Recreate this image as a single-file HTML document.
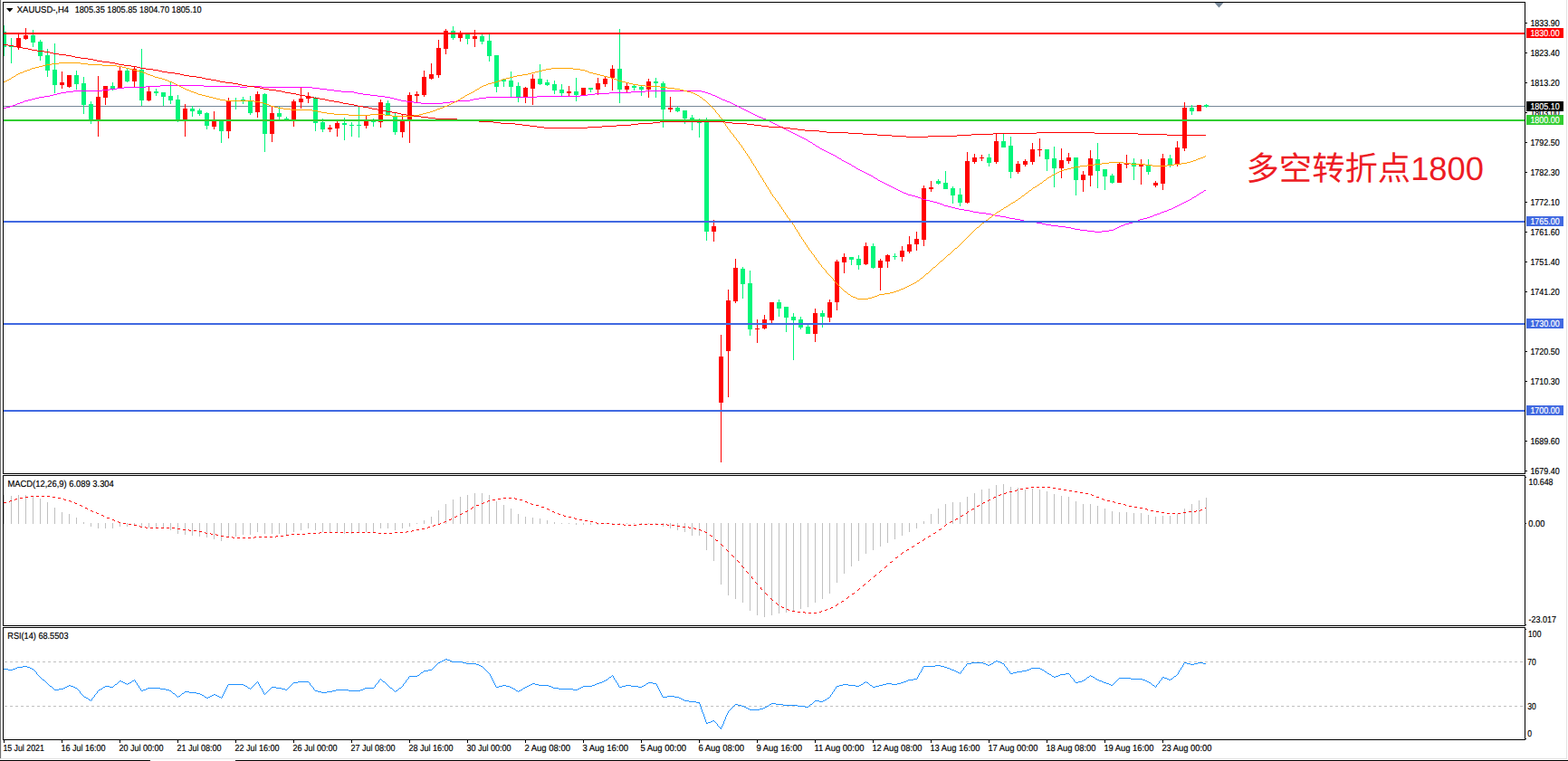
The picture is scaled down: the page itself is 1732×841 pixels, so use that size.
<!DOCTYPE html>
<html><head><meta charset="utf-8"><title>XAUUSD H4</title>
<style>
html,body{margin:0;padding:0;background:#fff;}
body{width:1732px;height:841px;overflow:hidden;position:relative;font-family:"Liberation Sans",sans-serif;}
svg{position:absolute;left:0;top:0;display:block;}
text{font-family:"Liberation Sans",sans-serif;font-size:10.1px;fill:#000;stroke:#000;stroke-width:0.18px;text-rendering:geometricPrecision;}
.w{fill:#fff;stroke:#fff;}
</style></head><body>
<svg width="1732" height="841" viewBox="0 0 1732 841">
<rect x="0" y="0" width="1732" height="841" fill="#fff"/>
<g shape-rendering="crispEdges">
<rect x="0" y="0" width="1" height="838" fill="#727272"/>
<rect x="1" y="0" width="1" height="838" fill="#ededed"/>
<rect x="1730" y="0" width="1" height="839" fill="#e3e3e3"/>
<rect x="0" y="838" width="1731" height="1" fill="#e3e3e3"/>
<rect x="0" y="840" width="166" height="1" fill="#000"/>
<rect x="260" y="840" width="1472" height="1" fill="#000"/>
</g>
<g shape-rendering="crispEdges">
<rect x="4" y="117" width="1680" height="1" fill="#778899"/>
</g>
<defs><clipPath id="cm"><rect x="4" y="3" width="1680" height="520"/></clipPath></defs>
<g shape-rendering="crispEdges" clip-path="url(#cm)">
<path fill="#00F57A" d="M4 28h1v34h-1zM2 35h5v17h-5zM12 42h1v28h-1zM10 51h5v1h-5zM36 33h1v19h-1zM34 39h5v8h-5zM44 44h1v23h-1zM42 46h5v16h-5zM52 54h1v31h-1zM50 61h5v17h-5zM60 48h1v55h-1zM58 77h5v17h-5zM84 78h1v21h-1zM82 83h5v10h-5zM92 85h1v41h-1zM90 92h5v24h-5zM100 112h1v25h-1zM98 115h5v17h-5zM124 91h1v9h-1zM122 95h5v3h-5zM140 76h1v15h-1zM138 78h5v12h-5zM156 54h1v63h-1zM154 77h5v34h-5zM172 98h1v8h-1zM170 101h5v2h-5zM180 102h1v15h-1zM178 102h5v5h-5zM188 91h1v24h-1zM186 106h5v5h-5zM196 105h1v30h-1zM194 110h5v22h-5zM212 117h1v12h-1zM210 120h5v3h-5zM220 120h1v8h-1zM218 122h5v4h-5zM228 124h1v19h-1zM226 125h5v14h-5zM244 133h1v25h-1zM242 133h5v12h-5zM260 108h1v13h-1zM258 111h5v1h-5zM268 107h1v8h-1zM266 110h5v2h-5zM276 106h1v21h-1zM274 111h5v14h-5zM292 103h1v65h-1zM290 104h5v44h-5zM308 118h1v14h-1zM306 125h5v4h-5zM316 129h1v4h-1zM314 131h5v2h-5zM348 107h1v38h-1zM346 108h5v28h-5zM356 131h1v15h-1zM354 135h5v8h-5zM380 130h1v25h-1zM378 136h5v2h-5zM388 135h1v16h-1zM386 138h5v1h-5zM396 118h1v34h-1zM394 138h5v1h-5zM412 131h1v9h-1zM410 133h5v2h-5zM428 111h1v16h-1zM426 114h5v13h-5zM436 125h1v24h-1zM434 129h5v17h-5zM500 29h1v15h-1zM498 34h5v8h-5zM516 37h1v12h-1zM514 37h5v6h-5zM532 38h1v11h-1zM530 40h5v6h-5zM540 38h1v30h-1zM538 45h5v17h-5zM548 61h1v41h-1zM546 61h5v35h-5zM556 87h1v9h-1zM554 88h5v2h-5zM564 79h1v28h-1zM562 89h5v7h-5zM572 91h1v22h-1zM570 95h5v13h-5zM596 71h1v23h-1zM594 87h5v6h-5zM604 88h1v7h-1zM602 91h5v3h-5zM612 89h1v15h-1zM610 93h5v7h-5zM620 93h1v14h-1zM618 99h5v4h-5zM636 86h1v26h-1zM634 101h5v4h-5zM652 97h1v5h-1zM650 97h5v2h-5zM684 32h1v82h-1zM682 76h5v23h-5zM700 93h1v7h-1zM698 95h5v2h-5zM708 95h1v11h-1zM706 96h5v3h-5zM724 86h1v22h-1zM722 90h5v2h-5zM732 90h1v51h-1zM730 92h5v29h-5zM748 118h1v6h-1zM746 119h5v4h-5zM756 122h1v15h-1zM754 122h5v9h-5zM764 127h1v17h-1zM762 130h5v3h-5zM772 131h1v21h-1zM770 133h5v3h-5zM780 130h1v136h-1zM778 134h5v122h-5zM820 295h1v35h-1zM818 297h5v17h-5zM828 299h1v72h-1zM826 313h5v51h-5zM860 331h1v19h-1zM858 334h5v7h-5zM868 339h1v28h-1zM866 339h5v12h-5zM876 346h1v52h-1zM874 350h5v4h-5zM884 350h1v14h-1zM882 353h5v9h-5zM892 359h1v10h-1zM890 361h5v8h-5zM908 343h1v19h-1zM906 346h5v4h-5zM940 284h1v9h-1zM938 284h5v3h-5zM948 282h1v16h-1zM946 286h5v7h-5zM964 269h1v28h-1zM962 272h5v24h-5zM988 280h1v7h-1zM986 283h5v1h-5zM1036 198h1v6h-1zM1034 200h5v3h-5zM1044 189h1v20h-1zM1042 202h5v7h-5zM1052 206h1v19h-1zM1050 208h5v8h-5zM1060 208h1v20h-1zM1058 215h5v9h-5zM1092 170h1v14h-1zM1090 174h5v6h-5zM1108 148h1v15h-1zM1106 156h5v7h-5zM1116 151h1v46h-1zM1114 161h5v29h-5zM1156 165h1v24h-1zM1154 165h5v11h-5zM1164 162h1v45h-1zM1162 175h5v11h-5zM1188 174h1v42h-1zM1186 174h5v25h-5zM1212 158h1v50h-1zM1210 176h5v13h-5zM1220 187h1v23h-1zM1218 187h5v8h-5zM1228 192h1v11h-1zM1226 194h5v8h-5zM1252 175h1v24h-1zM1250 180h5v4h-5zM1268 176h1v17h-1zM1266 182h5v8h-5zM1292 171h1v14h-1zM1290 175h5v7h-5zM1316 116h1v11h-1zM1314 119h5v4h-5zM1332 115h1v4h-1zM1330 116h5v2h-5z"/>
<path fill="#FF0000" d="M20 37h1v18h-1zM18 42h5v10h-5zM28 31h1v13h-1zM26 39h5v4h-5zM68 79h1v19h-1zM66 91h5v3h-5zM76 83h1v14h-1zM74 83h5v13h-5zM108 84h1v67h-1zM106 107h5v25h-5zM116 95h1v21h-1zM114 95h5v13h-5zM132 73h1v24h-1zM130 78h5v19h-5zM148 73h1v24h-1zM146 76h5v14h-5zM164 96h1v16h-1zM162 101h5v10h-5zM204 115h1v36h-1zM202 120h5v12h-5zM236 123h1v20h-1zM234 134h5v6h-5zM252 108h1v45h-1zM250 112h5v33h-5zM284 101h1v29h-1zM282 104h5v20h-5zM300 117h1v40h-1zM298 125h5v23h-5zM324 110h1v30h-1zM322 112h5v20h-5zM332 97h1v23h-1zM330 109h5v4h-5zM340 102h1v12h-1zM338 107h5v2h-5zM364 138h1v8h-1zM362 141h5v2h-5zM372 134h1v17h-1zM370 136h5v6h-5zM404 128h1v14h-1zM402 134h5v5h-5zM420 110h1v31h-1zM418 113h5v22h-5zM444 126h1v26h-1zM442 132h5v14h-5zM452 102h1v56h-1zM450 105h5v27h-5zM460 101h1v12h-1zM458 104h5v2h-5zM468 78h1v29h-1zM466 85h5v20h-5zM476 70h1v18h-1zM474 82h5v5h-5zM484 44h1v42h-1zM482 53h5v30h-5zM492 32h1v28h-1zM490 34h5v20h-5zM508 34h1v12h-1zM506 36h5v6h-5zM524 33h1v19h-1zM522 40h5v3h-5zM580 96h1v18h-1zM578 97h5v11h-5zM588 82h1v34h-1zM586 87h5v11h-5zM628 95h1v12h-1zM626 101h5v2h-5zM644 97h1v9h-1zM642 97h5v8h-5zM660 86h1v19h-1zM658 92h5v7h-5zM668 85h1v11h-1zM666 87h5v6h-5zM676 72h1v28h-1zM674 76h5v10h-5zM692 92h1v10h-1zM690 95h5v4h-5zM716 87h1v21h-1zM714 90h5v9h-5zM740 107h1v17h-1zM738 119h5v2h-5zM788 243h1v24h-1zM786 250h5v6h-5zM796 370h1v141h-1zM794 394h5v51h-5zM804 320h1v119h-1zM802 332h5v56h-5zM812 286h1v49h-1zM810 296h5v37h-5zM836 353h1v26h-1zM834 363h5v1h-5zM844 348h1v16h-1zM842 353h5v10h-5zM852 334h1v23h-1zM850 334h5v20h-5zM900 341h1v37h-1zM898 346h5v23h-5zM916 331h1v25h-1zM914 334h5v17h-5zM924 287h1v56h-1zM922 289h5v45h-5zM932 280h1v22h-1zM930 284h5v6h-5zM956 268h1v25h-1zM954 272h5v20h-5zM972 286h1v35h-1zM970 288h5v8h-5zM980 281h1v15h-1zM978 282h5v7h-5zM996 272h1v17h-1zM994 277h5v7h-5zM1004 261h1v19h-1zM1002 270h5v8h-5zM1012 256h1v21h-1zM1010 264h5v6h-5zM1020 205h1v67h-1zM1018 208h5v57h-5zM1028 200h1v12h-1zM1026 207h5v2h-5zM1068 168h1v57h-1zM1066 178h5v46h-5zM1076 170h1v11h-1zM1074 174h5v5h-5zM1084 171h1v7h-1zM1082 174h5v1h-5zM1100 148h1v33h-1zM1098 156h5v23h-5zM1124 178h1v14h-1zM1122 181h5v9h-5zM1132 176h1v8h-1zM1130 178h5v4h-5zM1140 158h1v24h-1zM1138 165h5v14h-5zM1148 153h1v20h-1zM1146 165h5v1h-5zM1172 164h1v33h-1zM1170 177h5v9h-5zM1180 169h1v12h-1zM1178 174h5v4h-5zM1196 189h1v23h-1zM1194 193h5v6h-5zM1204 166h1v40h-1zM1202 175h5v19h-5zM1236 180h1v22h-1zM1234 181h5v21h-5zM1244 171h1v15h-1zM1242 180h5v2h-5zM1260 176h1v28h-1zM1258 182h5v2h-5zM1276 200h1v7h-1zM1274 202h5v3h-5zM1284 170h1v40h-1zM1282 175h5v28h-5zM1300 156h1v28h-1zM1298 163h5v19h-5zM1308 113h1v54h-1zM1306 119h5v45h-5zM1324 116h1v7h-1zM1322 116h5v7h-5z"/>
</g>
<g shape-rendering="crispEdges">
<path fill="#FF00FF" d="M4 119h3v1h-3zM7 118h4v1h-4zM11 117h3v1h-3zM14 116h3v1h-3zM17 115h2v1h-2zM19 114h3v1h-3zM22 113h3v1h-3zM25 112h2v1h-2zM27 111h4v1h-4zM31 110h4v1h-4zM35 109h4v1h-4zM39 108h4v1h-4zM43 107h6v1h-6zM49 106h6v1h-6zM55 105h4v1h-4zM59 104h4v1h-4zM63 103h4v1h-4zM67 102h6v1h-6zM73 101h8v1h-8zM81 100h32v1h-32zM113 99h8v1h-8zM121 98h8v1h-8zM129 97h8v1h-8zM137 96h24v1h-24zM161 95h16v1h-16zM177 94h48v1h-48zM225 95h40v1h-40zM265 96h8v1h-8zM273 95h16v1h-16zM289 96h56v1h-56zM345 97h8v1h-8zM353 98h8v1h-8zM361 99h8v1h-8zM369 100h8v1h-8zM377 101h14v1h-14zM391 102h4v1h-4zM395 103h6v1h-6zM401 104h8v1h-8zM409 105h8v1h-8zM417 106h8v1h-8zM425 107h6v1h-6zM431 108h4v1h-4zM435 109h4v1h-4zM439 110h4v1h-4zM443 111h6v1h-6zM449 112h8v1h-8zM457 113h8v1h-8zM465 114h24v1h-24zM489 113h8v1h-8zM497 112h8v1h-8zM505 111h14v1h-14zM519 110h4v1h-4zM523 109h6v1h-6zM529 108h8v1h-8zM537 107h56v1h-56zM593 106h48v1h-48zM641 105h8v1h-8zM649 104h8v1h-8zM657 103h16v1h-16zM673 102h24v1h-24zM697 101h16v1h-16zM713 100h62v1h-62zM775 101h4v1h-4zM779 102h3v1h-3zM782 103h3v1h-3zM785 104h2v1h-2zM787 105h3v1h-3zM790 106h2v1h-2zM792 107h2v1h-2zM794 108h2v1h-2zM796 109h2v1h-2zM798 110h3v1h-3zM801 111h2v1h-2zM803 112h3v1h-3zM806 113h2v1h-2zM808 114h2v1h-2zM810 115h2v1h-2zM812 116h2v1h-2zM814 117h2v1h-2zM816 118h2v1h-2zM818 119h2v1h-2zM820 120h2v1h-2zM822 121h2v1h-2zM824 122h2v1h-2zM826 123h2v1h-2zM828 124h2v1h-2zM830 125h2v1h-2zM832 126h2v1h-2zM834 127h2v1h-2zM836 128h2v1h-2zM838 129h3v1h-3zM841 130h2v1h-2zM843 131h3v1h-3zM846 132h2v1h-2zM848 133h2v1h-2zM850 134h2v1h-2zM852 135h2v1h-2zM854 136h2v1h-2zM856 137h2v1h-2zM858 138h2v1h-2zM860 139h2v1h-2zM862 140h2v1h-2zM864 141h2v1h-2zM866 142h2v1h-2zM868 143h2v1h-2zM870 144h2v1h-2zM872 145h2v1h-2zM874 146h2v1h-2zM876 147h2v1h-2zM878 148h2v1h-2zM880 149h2v1h-2zM882 150h2v1h-2zM884 151h2v1h-2zM886 152h2v1h-2zM888 153h2v1h-2zM890 154h2v1h-2zM892 155h1v1h-1zM893 156h2v1h-2zM895 157h2v1h-2zM897 158h1v1h-1zM898 159h2v1h-2zM900 160h1v1h-1zM901 161h2v1h-2zM903 162h2v1h-2zM905 163h1v1h-1zM906 164h2v1h-2zM908 165h2v1h-2zM910 166h2v1h-2zM912 167h2v1h-2zM914 168h2v1h-2zM916 169h2v1h-2zM918 170h2v1h-2zM920 171h2v1h-2zM922 172h2v1h-2zM924 173h1v1h-1zM925 174h2v1h-2zM927 175h2v1h-2zM929 176h1v1h-1zM930 177h2v1h-2zM932 178h2v1h-2zM934 179h2v1h-2zM936 180h2v1h-2zM938 181h2v1h-2zM940 182h1v1h-1zM941 183h2v1h-2zM943 184h2v1h-2zM945 185h1v1h-1zM946 186h2v1h-2zM948 187h2v1h-2zM950 188h2v1h-2zM952 189h2v1h-2zM954 190h2v1h-2zM956 191h2v1h-2zM958 192h2v1h-2zM960 193h2v1h-2zM962 194h2v1h-2zM964 195h1v1h-1zM965 196h2v1h-2zM967 197h2v1h-2zM969 198h1v1h-1zM970 199h2v1h-2zM972 200h2v1h-2zM974 201h2v1h-2zM976 202h2v1h-2zM978 203h2v1h-2zM980 204h2v1h-2zM982 205h2v1h-2zM984 206h2v1h-2zM986 207h2v1h-2zM988 208h2v1h-2zM990 209h2v1h-2zM992 210h2v1h-2zM994 211h2v1h-2zM996 212h2v1h-2zM998 213h3v1h-3zM1001 214h2v1h-2zM1003 215h4v1h-4zM1007 216h4v1h-4zM1011 217h3v1h-3zM1014 218h3v1h-3zM1017 219h2v1h-2zM1019 220h4v1h-4zM1023 221h4v1h-4zM1027 222h4v1h-4zM1031 223h4v1h-4zM1035 224h3v1h-3zM1038 225h3v1h-3zM1041 226h2v1h-2zM1043 227h4v1h-4zM1047 228h4v1h-4zM1051 229h4v1h-4zM1055 230h4v1h-4zM1059 231h6v1h-6zM1065 232h6v1h-6zM1071 233h4v1h-4zM1075 234h6v1h-6zM1081 235h8v1h-8zM1089 236h6v1h-6zM1095 237h4v1h-4zM1099 238h6v1h-6zM1105 239h6v1h-6zM1111 240h4v1h-4zM1115 241h6v1h-6zM1121 242h6v1h-6zM1127 243h4v1h-4zM1131 244h6v1h-6zM1137 245h8v1h-8zM1145 246h6v1h-6zM1151 247h4v1h-4zM1155 248h6v1h-6zM1161 249h8v1h-8zM1169 250h8v1h-8zM1177 251h6v1h-6zM1183 252h4v1h-4zM1187 253h6v1h-6zM1193 254h8v1h-8zM1201 255h8v1h-8zM1209 256h8v1h-8zM1217 255h8v1h-8zM1225 254h5v1h-5zM1230 253h2v1h-2zM1232 252h2v1h-2zM1234 251h2v1h-2zM1236 250h2v1h-2zM1238 249h3v1h-3zM1241 248h2v1h-2zM1243 247h4v1h-4zM1247 246h4v1h-4zM1251 245h3v1h-3zM1254 244h3v1h-3zM1257 243h2v1h-2zM1259 242h4v1h-4zM1263 241h4v1h-4zM1267 240h3v1h-3zM1270 239h3v1h-3zM1273 238h2v1h-2zM1275 237h3v1h-3zM1278 236h3v1h-3zM1281 235h2v1h-2zM1283 234h3v1h-3zM1286 233h3v1h-3zM1289 232h2v1h-2zM1291 231h3v1h-3zM1294 230h2v1h-2zM1296 229h2v1h-2zM1298 228h2v1h-2zM1300 227h2v1h-2zM1302 226h2v1h-2zM1304 225h2v1h-2zM1306 224h2v1h-2zM1308 223h2v1h-2zM1310 222h2v1h-2zM1312 221h2v1h-2zM1314 220h2v1h-2zM1316 219h1v1h-1zM1317 218h2v1h-2zM1319 217h2v1h-2zM1321 216h1v1h-1zM1322 215h2v1h-2zM1324 214h1v1h-1zM1325 213h2v1h-2zM1327 212h2v1h-2zM1329 211h1v1h-1zM1330 210h2v1h-2z"/>
<path fill="#FFA500" d="M4 90h2v1h-2zM6 89h2v1h-2zM8 88h2v1h-2zM10 87h2v1h-2zM12 86h1v1h-1zM13 85h2v1h-2zM15 84h2v1h-2zM17 83h1v1h-1zM18 82h2v1h-2zM20 81h2v1h-2zM22 80h3v1h-3zM25 79h2v1h-2zM27 78h3v1h-3zM30 77h3v1h-3zM33 76h2v1h-2zM35 75h4v1h-4zM39 74h4v1h-4zM43 73h4v1h-4zM47 72h4v1h-4zM51 71h6v1h-6zM57 70h8v1h-8zM65 69h24v1h-24zM89 70h8v1h-8zM97 71h16v1h-16zM113 72h16v1h-16zM129 73h6v1h-6zM135 74h4v1h-4zM139 75h4v1h-4zM143 76h4v1h-4zM147 77h4v1h-4zM151 78h4v1h-4zM155 79h3v1h-3zM158 80h3v1h-3zM161 81h2v1h-2zM163 82h3v1h-3zM166 83h3v1h-3zM169 84h2v1h-2zM171 85h4v1h-4zM175 86h4v1h-4zM179 87h3v1h-3zM182 88h3v1h-3zM185 89h2v1h-2zM187 90h3v1h-3zM190 91h2v1h-2zM192 92h2v1h-2zM194 93h2v1h-2zM196 94h2v1h-2zM198 95h2v1h-2zM200 96h2v1h-2zM202 97h2v1h-2zM204 98h2v1h-2zM206 99h3v1h-3zM209 100h2v1h-2zM211 101h3v1h-3zM214 102h3v1h-3zM217 103h2v1h-2zM219 104h4v1h-4zM223 105h4v1h-4zM227 106h4v1h-4zM231 107h4v1h-4zM235 108h4v1h-4zM239 109h4v1h-4zM243 110h6v1h-6zM249 111h32v1h-32zM281 112h6v1h-6zM287 113h4v1h-4zM291 114h3v1h-3zM294 115h3v1h-3zM297 116h2v1h-2zM299 117h4v1h-4zM303 118h4v1h-4zM307 119h6v1h-6zM313 120h8v1h-8zM321 121h24v1h-24zM345 122h6v1h-6zM351 123h4v1h-4zM355 124h6v1h-6zM361 125h8v1h-8zM369 126h16v1h-16zM385 127h24v1h-24zM409 126h16v1h-16zM425 127h8v1h-8zM433 128h24v1h-24zM457 127h6v1h-6zM463 126h4v1h-4zM467 125h4v1h-4zM471 124h4v1h-4zM475 123h3v1h-3zM478 122h3v1h-3zM481 121h2v1h-2zM483 120h3v1h-3zM486 119h3v1h-3zM489 118h2v1h-2zM491 117h3v1h-3zM494 116h2v1h-2zM496 115h2v1h-2zM498 114h2v1h-2zM500 113h2v1h-2zM502 112h2v1h-2zM504 111h2v1h-2zM506 110h2v1h-2zM508 109h1v1h-1zM509 108h2v1h-2zM511 107h2v1h-2zM513 106h1v1h-1zM514 105h2v1h-2zM516 104h2v1h-2zM518 103h2v1h-2zM520 102h2v1h-2zM522 101h2v1h-2zM524 100h1v1h-1zM525 99h2v1h-2zM527 98h2v1h-2zM529 97h1v1h-1zM530 96h2v1h-2zM532 95h2v1h-2zM534 94h3v1h-3zM537 93h2v1h-2zM539 92h4v1h-4zM543 91h4v1h-4zM547 90h3v1h-3zM550 89h3v1h-3zM553 88h2v1h-2zM555 87h4v1h-4zM559 86h4v1h-4zM563 85h4v1h-4zM567 84h4v1h-4zM571 83h6v1h-6zM577 82h6v1h-6zM583 81h4v1h-4zM587 80h4v1h-4zM591 79h4v1h-4zM595 78h4v1h-4zM599 77h4v1h-4zM603 76h6v1h-6zM609 75h24v1h-24zM633 76h8v1h-8zM641 77h5v1h-5zM646 78h3v1h-3zM649 79h2v1h-2zM651 80h4v1h-4zM655 81h4v1h-4zM659 82h4v1h-4zM663 83h4v1h-4zM667 84h4v1h-4zM671 85h4v1h-4zM675 86h3v1h-3zM678 87h3v1h-3zM681 88h2v1h-2zM683 89h4v1h-4zM687 90h4v1h-4zM691 91h4v1h-4zM695 92h4v1h-4zM699 93h6v1h-6zM705 94h8v1h-8zM713 95h16v1h-16zM729 96h8v1h-8zM737 97h8v1h-8zM745 98h6v1h-6zM751 99h4v1h-4zM755 100h4v1h-4zM759 101h4v1h-4zM763 102h3v1h-3zM766 103h2v1h-2zM768 104h2v1h-2zM770 105h2v1h-2zM772 106h1v1h-1zM773 107h2v1h-2zM775 108h1v1h-1zM776 109h1v1h-1zM777 110h2v1h-2zM779 111h1v1h-1zM780 112h1v1h-1zM781 113h1v1h-1zM782 114h1v1h-1zM783 115h1v1h-1zM784 116h1v1h-1zM785 117h1v1h-1zM786 118h1v1h-1zM787 119h1v1h-1zM788 120h1v1h-1zM789 121h1v1h-1zM790 122h1v2h-1zM791 124h1v1h-1zM792 125h1v1h-1zM793 126h1v1h-1zM794 127h1v2h-1zM795 129h1v1h-1zM796 130h1v1h-1zM797 131h1v2h-1zM798 133h1v1h-1zM799 134h1v2h-1zM800 136h1v1h-1zM801 137h1v2h-1zM802 139h1v1h-1zM803 140h1v2h-1zM804 142h1v1h-1zM805 143h1v1h-1zM806 144h1v2h-1zM807 146h1v1h-1zM808 147h1v1h-1zM809 148h1v1h-1zM810 149h1v2h-1zM811 151h1v1h-1zM812 152h1v1h-1zM813 153h1v2h-1zM814 155h1v1h-1zM815 156h1v1h-1zM816 157h1v2h-1zM817 159h1v1h-1zM818 160h1v1h-1zM819 161h1v2h-1zM820 163h1v1h-1zM821 164h1v2h-1zM822 166h1v1h-1zM823 167h1v2h-1zM824 169h1v1h-1zM825 170h1v2h-1zM826 172h1v1h-1zM827 173h1v2h-1zM828 175h1v1h-1zM829 176h1v2h-1zM830 178h1v2h-1zM831 180h1v1h-1zM832 181h1v2h-1zM833 183h1v1h-1zM834 184h1v2h-1zM835 186h1v2h-1zM836 188h1v1h-1zM837 189h1v2h-1zM838 191h1v2h-1zM839 193h1v1h-1zM840 194h1v2h-1zM841 196h1v1h-1zM842 197h1v2h-1zM843 199h1v2h-1zM844 201h1v1h-1zM845 202h1v2h-1zM846 204h1v2h-1zM847 206h1v1h-1zM848 207h1v2h-1zM849 209h1v1h-1zM850 210h1v2h-1zM851 212h1v2h-1zM852 214h1v1h-1zM853 215h1v2h-1zM854 217h1v1h-1zM855 218h1v1h-1zM856 219h1v2h-1zM857 221h1v1h-1zM858 222h1v1h-1zM859 223h1v2h-1zM860 225h1v1h-1zM861 226h1v2h-1zM862 228h1v1h-1zM863 229h1v2h-1zM864 231h1v1h-1zM865 232h1v2h-1zM866 234h1v1h-1zM867 235h1v2h-1zM868 237h1v1h-1zM869 238h1v2h-1zM870 240h1v1h-1zM871 241h1v1h-1zM872 242h1v2h-1zM873 244h1v1h-1zM874 245h1v1h-1zM875 246h1v2h-1zM876 248h1v1h-1zM877 249h1v2h-1zM878 251h1v2h-1zM879 253h1v1h-1zM880 254h1v2h-1zM881 256h1v1h-1zM882 257h1v2h-1zM883 259h1v2h-1zM884 261h1v1h-1zM885 262h1v2h-1zM886 264h1v1h-1zM887 265h1v2h-1zM888 267h1v1h-1zM889 268h1v2h-1zM890 270h1v1h-1zM891 271h1v2h-1zM892 273h1v1h-1zM893 274h1v2h-1zM894 276h1v1h-1zM895 277h1v1h-1zM896 278h1v2h-1zM897 280h1v1h-1zM898 281h1v1h-1zM899 282h1v2h-1zM900 284h1v1h-1zM901 285h1v2h-1zM902 287h1v1h-1zM903 288h1v1h-1zM904 289h1v2h-1zM905 291h1v1h-1zM906 292h1v1h-1zM907 293h1v2h-1zM908 295h1v1h-1zM909 296h1v1h-1zM910 297h1v1h-1zM911 298h1v1h-1zM912 299h1v2h-1zM913 301h1v1h-1zM914 302h1v1h-1zM915 303h1v1h-1zM916 304h1v1h-1zM917 305h1v1h-1zM918 306h1v1h-1zM919 307h1v1h-1zM920 308h1v2h-1zM921 310h1v1h-1zM922 311h1v1h-1zM923 312h1v1h-1zM924 313h1v1h-1zM925 314h1v1h-1zM926 315h1v1h-1zM927 316h1v1h-1zM928 317h1v1h-1zM929 318h1v1h-1zM930 319h1v1h-1zM931 320h1v1h-1zM932 321h1v1h-1zM933 322h2v1h-2zM935 323h1v1h-1zM936 324h1v1h-1zM937 325h2v1h-2zM939 326h1v1h-1zM940 327h2v1h-2zM942 328h3v1h-3zM945 329h2v1h-2zM947 330h12v1h-12zM959 329h4v1h-4zM963 328h3v1h-3zM966 327h3v1h-3zM969 326h2v1h-2zM971 325h6v1h-6zM977 324h6v1h-6zM983 323h4v1h-4zM987 322h3v1h-3zM990 321h3v1h-3zM993 320h2v1h-2zM995 319h3v1h-3zM998 318h2v1h-2zM1000 317h2v1h-2zM1002 316h2v1h-2zM1004 315h2v1h-2zM1006 314h2v1h-2zM1008 313h2v1h-2zM1010 312h2v1h-2zM1012 311h1v1h-1zM1013 310h2v1h-2zM1015 309h1v1h-1zM1016 308h1v1h-1zM1017 307h2v1h-2zM1019 306h1v1h-1zM1020 305h1v1h-1zM1021 304h1v1h-1zM1022 303h1v1h-1zM1023 302h2v1h-2zM1025 301h1v1h-1zM1026 300h1v1h-1zM1027 299h1v1h-1zM1028 298h1v1h-1zM1029 297h1v1h-1zM1030 296h1v1h-1zM1031 295h2v1h-2zM1033 294h1v1h-1zM1034 293h1v1h-1zM1035 292h1v1h-1zM1036 291h1v1h-1zM1037 290h1v1h-1zM1038 289h1v1h-1zM1039 288h2v1h-2zM1041 287h1v1h-1zM1042 286h1v1h-1zM1043 285h1v1h-1zM1044 284h1v1h-1zM1045 283h1v1h-1zM1046 282h1v1h-1zM1047 281h2v1h-2zM1049 280h1v1h-1zM1050 279h1v1h-1zM1051 278h1v1h-1zM1052 277h1v1h-1zM1053 276h1v1h-1zM1054 275h1v1h-1zM1055 274h2v1h-2zM1057 273h1v1h-1zM1058 272h1v1h-1zM1059 271h1v1h-1zM1060 270h1v1h-1zM1061 269h1v1h-1zM1062 268h1v1h-1zM1063 267h1v1h-1zM1064 266h1v1h-1zM1065 265h1v1h-1zM1066 264h1v1h-1zM1067 263h1v1h-1zM1068 262h1v1h-1zM1069 261h1v1h-1zM1070 260h1v1h-1zM1071 259h1v1h-1zM1072 258h1v1h-1zM1073 257h1v1h-1zM1074 256h1v1h-1zM1075 255h1v1h-1zM1076 254h1v1h-1zM1077 253h1v1h-1zM1078 252h1v1h-1zM1079 251h2v1h-2zM1081 250h1v1h-1zM1082 249h1v1h-1zM1083 248h1v1h-1zM1084 247h1v1h-1zM1085 246h2v1h-2zM1087 245h1v1h-1zM1088 244h1v1h-1zM1089 243h2v1h-2zM1091 242h1v1h-1zM1092 241h1v1h-1zM1093 240h2v1h-2zM1095 239h1v1h-1zM1096 238h1v1h-1zM1097 237h2v1h-2zM1099 236h1v1h-1zM1100 235h1v1h-1zM1101 234h2v1h-2zM1103 233h2v1h-2zM1105 232h1v1h-1zM1106 231h2v1h-2zM1108 230h1v1h-1zM1109 229h2v1h-2zM1111 228h2v1h-2zM1113 227h1v1h-1zM1114 226h2v1h-2zM1116 225h1v1h-1zM1117 224h2v1h-2zM1119 223h2v1h-2zM1121 222h1v1h-1zM1122 221h2v1h-2zM1124 220h1v1h-1zM1125 219h2v1h-2zM1127 218h1v1h-1zM1128 217h1v1h-1zM1129 216h2v1h-2zM1131 215h1v1h-1zM1132 214h1v1h-1zM1133 213h2v1h-2zM1135 212h1v1h-1zM1136 211h1v1h-1zM1137 210h2v1h-2zM1139 209h1v1h-1zM1140 208h1v1h-1zM1141 207h2v1h-2zM1143 206h2v1h-2zM1145 205h1v1h-1zM1146 204h2v1h-2zM1148 203h1v1h-1zM1149 202h2v1h-2zM1151 201h1v1h-1zM1152 200h1v1h-1zM1153 199h2v1h-2zM1155 198h1v1h-1zM1156 197h1v1h-1zM1157 196h2v1h-2zM1159 195h2v1h-2zM1161 194h1v1h-1zM1162 193h2v1h-2zM1164 192h2v1h-2zM1166 191h2v1h-2zM1168 190h2v1h-2zM1170 189h2v1h-2zM1172 188h3v1h-3zM1175 187h4v1h-4zM1179 186h4v1h-4zM1183 185h4v1h-4zM1187 184h6v1h-6zM1193 183h8v1h-8zM1201 182h8v1h-8zM1209 181h8v1h-8zM1217 180h8v1h-8zM1225 179h16v1h-16zM1241 180h8v1h-8zM1249 181h16v1h-16zM1265 182h8v1h-8zM1273 183h16v1h-16zM1289 182h8v1h-8zM1297 181h8v1h-8zM1305 180h6v1h-6zM1311 179h4v1h-4zM1315 178h3v1h-3zM1318 177h3v1h-3zM1321 176h2v1h-2zM1323 175h3v1h-3zM1326 174h3v1h-3zM1329 173h2v1h-2zM1331 172h1v1h-1z"/>
<path fill="#FF0000" d="M4 49h5v1h-5zM9 50h6v1h-6zM15 51h4v1h-4zM19 52h6v1h-6zM25 53h6v1h-6zM31 54h4v1h-4zM35 55h6v1h-6zM41 56h8v1h-8zM49 57h6v1h-6zM55 58h4v1h-4zM59 59h6v1h-6zM65 60h8v1h-8zM73 61h6v1h-6zM79 62h4v1h-4zM83 63h6v1h-6zM89 64h8v1h-8zM97 65h6v1h-6zM103 66h4v1h-4zM107 67h6v1h-6zM113 68h8v1h-8zM121 69h6v1h-6zM127 70h4v1h-4zM131 71h6v1h-6zM137 72h8v1h-8zM145 73h6v1h-6zM151 74h4v1h-4zM155 75h6v1h-6zM161 76h8v1h-8zM169 77h6v1h-6zM175 78h4v1h-4zM179 79h6v1h-6zM185 80h8v1h-8zM193 81h6v1h-6zM199 82h4v1h-4zM203 83h6v1h-6zM209 84h8v1h-8zM217 85h6v1h-6zM223 86h4v1h-4zM227 87h6v1h-6zM233 88h6v1h-6zM239 89h4v1h-4zM243 90h6v1h-6zM249 91h8v1h-8zM257 92h6v1h-6zM263 93h4v1h-4zM267 94h6v1h-6zM273 95h8v1h-8zM281 96h6v1h-6zM287 97h4v1h-4zM291 98h6v1h-6zM297 99h8v1h-8zM305 100h6v1h-6zM311 101h4v1h-4zM315 102h6v1h-6zM321 103h6v1h-6zM327 104h4v1h-4zM331 105h6v1h-6zM337 106h6v1h-6zM343 107h4v1h-4zM347 108h6v1h-6zM353 109h6v1h-6zM359 110h4v1h-4zM363 111h6v1h-6zM369 112h6v1h-6zM375 113h4v1h-4zM379 114h6v1h-6zM385 115h6v1h-6zM391 116h4v1h-4zM395 117h6v1h-6zM401 118h6v1h-6zM407 119h4v1h-4zM411 120h6v1h-6zM417 121h6v1h-6zM423 122h4v1h-4zM427 123h6v1h-6zM433 124h6v1h-6zM439 125h4v1h-4zM443 126h6v1h-6zM449 127h8v1h-8zM457 128h8v1h-8zM465 129h8v1h-8zM473 130h8v1h-8zM481 131h24v1h-24zM505 132h16v1h-16zM521 133h8v1h-8zM529 134h16v1h-16zM545 135h8v1h-8zM553 136h16v1h-16zM569 137h8v1h-8zM577 138h8v1h-8zM585 139h8v1h-8zM593 140h8v1h-8zM601 141h48v1h-48zM649 140h16v1h-16zM665 139h16v1h-16zM681 138h16v1h-16zM697 137h8v1h-8zM705 136h16v1h-16zM721 135h8v1h-8zM729 134h72v1h-72zM801 135h8v1h-8zM809 136h16v1h-16zM825 137h8v1h-8zM833 138h8v1h-8zM841 139h8v1h-8zM849 140h16v1h-16zM865 141h8v1h-8zM873 142h8v1h-8zM881 143h8v1h-8zM889 144h16v1h-16zM905 145h8v1h-8zM913 146h24v1h-24zM937 147h16v1h-16zM953 148h16v1h-16zM969 149h16v1h-16zM985 150h16v1h-16zM1001 151h24v1h-24zM1025 150h32v1h-32zM1057 149h16v1h-16zM1073 148h24v1h-24zM1097 147h48v1h-48zM1145 146h64v1h-64zM1209 147h48v1h-48zM1257 148h32v1h-32zM1289 149h43v1h-43z"/>
</g>
<g shape-rendering="crispEdges">
<rect x="4" y="36" width="1680" height="2" fill="#FF0000"/>
<rect x="4" y="132" width="1680" height="2" fill="#32CD32"/>
<rect x="4" y="244" width="1680" height="2" fill="#4169E1"/>
<rect x="4" y="357" width="1680" height="2" fill="#4169E1"/>
<rect x="4" y="453" width="1680" height="2" fill="#4169E1"/>
</g>
<g shape-rendering="crispEdges">
<path fill="#C0C0C0" d="M4 547h1v32h-1zM12 548h1v31h-1zM20 547h1v32h-1zM28 547h1v32h-1zM36 548h1v31h-1zM44 551h1v28h-1zM52 555h1v24h-1zM60 561h1v18h-1zM68 566h1v13h-1zM76 568h1v11h-1zM84 572h1v7h-1zM92 577h1v2h-1zM100 578h1v4h-1zM108 578h1v6h-1zM116 578h1v6h-1zM124 578h1v6h-1zM132 578h1v4h-1zM140 578h1v4h-1zM148 578h1v2h-1zM156 578h1v4h-1zM164 578h1v5h-1zM172 578h1v6h-1zM180 578h1v6h-1zM188 578h1v8h-1zM196 578h1v12h-1zM204 578h1v13h-1zM212 578h1v14h-1zM220 578h1v15h-1zM228 578h1v16h-1zM236 578h1v18h-1zM244 578h1v20h-1zM252 578h1v16h-1zM260 578h1v15h-1zM268 578h1v13h-1zM276 578h1v13h-1zM284 578h1v10h-1zM292 578h1v12h-1zM300 578h1v12h-1zM308 578h1v12h-1zM316 578h1v13h-1zM324 578h1v10h-1zM332 578h1v8h-1zM340 578h1v6h-1zM348 578h1v8h-1zM356 578h1v10h-1zM364 578h1v10h-1zM372 578h1v10h-1zM380 578h1v12h-1zM388 578h1v12h-1zM396 578h1v11h-1zM404 578h1v10h-1zM412 578h1v10h-1zM420 578h1v6h-1zM428 578h1v6h-1zM436 578h1v8h-1zM444 578h1v6h-1zM452 578h1v4h-1zM460 578h1v1h-1zM468 575h1v4h-1zM476 571h1v8h-1zM484 564h1v15h-1zM492 557h1v22h-1zM500 552h1v27h-1zM508 549h1v30h-1zM516 547h1v32h-1zM524 545h1v34h-1zM532 545h1v34h-1zM540 547h1v32h-1zM548 554h1v25h-1zM556 558h1v21h-1zM564 562h1v17h-1zM572 568h1v11h-1zM580 571h1v8h-1zM588 572h1v7h-1zM596 573h1v6h-1zM604 575h1v4h-1zM612 577h1v2h-1zM620 578h1v1h-1zM628 578h1v1h-1zM636 578h1v2h-1zM644 578h1v2h-1zM652 578h1v2h-1zM660 578h1v2h-1zM668 578h1v1h-1zM676 578h1v1h-1zM684 578h1v1h-1zM692 578h1v1h-1zM700 578h1v1h-1zM708 578h1v1h-1zM716 578h1v1h-1zM724 578h1v1h-1zM732 578h1v4h-1zM740 578h1v6h-1zM748 578h1v8h-1zM756 578h1v10h-1zM764 578h1v14h-1zM772 578h1v14h-1zM780 578h1v30h-1zM788 578h1v42h-1zM796 578h1v68h-1zM804 578h1v80h-1zM812 578h1v84h-1zM820 578h1v88h-1zM828 578h1v97h-1zM836 578h1v102h-1zM844 578h1v104h-1zM852 578h1v102h-1zM860 578h1v100h-1zM868 578h1v99h-1zM876 578h1v97h-1zM884 578h1v95h-1zM892 578h1v93h-1zM900 578h1v88h-1zM908 578h1v84h-1zM916 578h1v78h-1zM924 578h1v66h-1zM932 578h1v56h-1zM940 578h1v48h-1zM948 578h1v42h-1zM956 578h1v34h-1zM964 578h1v30h-1zM972 578h1v26h-1zM980 578h1v22h-1zM988 578h1v18h-1zM996 578h1v14h-1zM1004 578h1v10h-1zM1012 578h1v6h-1zM1020 576h1v3h-1zM1028 568h1v11h-1zM1036 562h1v17h-1zM1044 557h1v22h-1zM1052 555h1v24h-1zM1060 555h1v24h-1zM1068 549h1v30h-1zM1076 545h1v34h-1zM1084 541h1v38h-1zM1092 540h1v39h-1zM1100 536h1v43h-1zM1108 535h1v44h-1zM1116 538h1v41h-1zM1124 539h1v40h-1zM1132 541h1v38h-1zM1140 540h1v39h-1zM1148 541h1v38h-1zM1156 543h1v36h-1zM1164 546h1v33h-1zM1172 548h1v31h-1zM1180 549h1v30h-1zM1188 554h1v25h-1zM1196 557h1v22h-1zM1204 557h1v22h-1zM1212 559h1v20h-1zM1220 562h1v17h-1zM1228 565h1v14h-1zM1236 566h1v13h-1zM1244 566h1v13h-1zM1252 567h1v12h-1zM1260 567h1v12h-1zM1268 569h1v10h-1zM1276 571h1v8h-1zM1284 570h1v9h-1zM1292 570h1v9h-1zM1300 568h1v11h-1zM1308 562h1v17h-1zM1316 557h1v22h-1zM1324 553h1v26h-1zM1332 550h1v29h-1z"/>
<path fill="#FF0000" d="M4 555h3v1h-3zM10 554h1v1h-1zM11 553h2v1h-2zM16 552h1v1h-1zM17 551h2v1h-2zM22 550h3v1h-3zM28 549h3v1h-3zM34 548h3v1h-3zM40 548h3v1h-3zM46 548h3v1h-3zM52 548h3v1h-3zM58 549h3v1h-3zM64 550h3v1h-3zM70 551h1v1h-1zM71 552h2v1h-2zM76 553h2v1h-2zM78 554h1v1h-1zM82 555h1v1h-1zM83 556h2v1h-2zM88 558h2v1h-2zM90 559h1v1h-1zM94 561h2v1h-2zM96 562h1v1h-1zM100 564h2v1h-2zM102 565h1v1h-1zM106 566h1v1h-1zM107 567h2v1h-2zM112 569h2v1h-2zM114 570h1v1h-1zM118 572h3v1h-3zM124 574h2v1h-2zM126 575h1v1h-1zM130 576h1v1h-1zM131 577h2v1h-2zM136 578h3v1h-3zM142 579h3v1h-3zM148 580h3v1h-3zM154 581h1v1h-1zM155 582h2v1h-2zM160 582h1v1h-1zM161 583h2v1h-2zM166 583h3v1h-3zM172 583h3v1h-3zM178 583h3v1h-3zM184 583h3v1h-3zM190 583h3v1h-3zM196 584h3v1h-3zM202 585h3v1h-3zM208 585h1v1h-1zM209 586h2v1h-2zM214 586h3v1h-3zM220 587h3v1h-3zM226 588h1v1h-1zM227 589h2v1h-2zM232 589h1v1h-1zM233 590h2v1h-2zM238 590h1v1h-1zM239 591h2v1h-2zM244 592h3v1h-3zM250 593h3v1h-3zM256 593h1v1h-1zM257 594h2v1h-2zM262 594h3v1h-3zM268 594h3v1h-3zM274 594h3v1h-3zM280 594h1v1h-1zM281 593h2v1h-2zM286 593h3v1h-3zM292 593h3v1h-3zM298 593h3v1h-3zM304 593h1v1h-1zM305 592h2v1h-2zM310 592h3v1h-3zM316 591h3v1h-3zM322 590h3v1h-3zM328 590h3v1h-3zM334 590h3v1h-3zM340 589h3v1h-3zM346 589h3v1h-3zM352 589h1v1h-1zM353 588h2v1h-2zM358 588h3v1h-3zM364 588h3v1h-3zM370 588h3v1h-3zM376 588h3v1h-3zM382 588h3v1h-3zM388 588h3v1h-3zM394 588h3v1h-3zM400 588h3v1h-3zM406 588h3v1h-3zM412 588h3v1h-3zM418 589h3v1h-3zM424 589h3v1h-3zM430 589h3v1h-3zM436 588h3v1h-3zM442 588h3v1h-3zM448 588h1v1h-1zM449 587h2v1h-2zM454 587h1v1h-1zM455 586h2v1h-2zM460 585h3v1h-3zM466 584h3v1h-3zM472 583h1v1h-1zM473 582h2v1h-2zM478 581h1v1h-1zM479 580h2v1h-2zM484 579h2v1h-2zM486 578h1v1h-1zM490 577h1v1h-1zM491 576h2v1h-2zM496 574h2v1h-2zM498 573h1v1h-1zM502 571h2v1h-2zM504 570h1v1h-1zM508 568h2v1h-2zM510 567h1v1h-1zM514 565h2v1h-2zM516 564h1v1h-1zM520 562h1v1h-1zM521 561h1v1h-1zM522 560h1v1h-1zM526 558h3v1h-3zM532 556h2v1h-2zM534 555h1v1h-1zM538 554h1v1h-1zM539 553h2v1h-2zM544 552h3v1h-3zM550 551h3v1h-3zM556 550h3v1h-3zM562 550h3v1h-3zM568 550h1v1h-1zM569 551h2v1h-2zM574 552h3v1h-3zM580 554h2v1h-2zM582 555h1v1h-1zM586 556h1v1h-1zM587 557h2v1h-2zM592 558h3v1h-3zM598 560h3v1h-3zM604 562h2v1h-2zM606 563h1v1h-1zM610 565h2v1h-2zM612 566h1v1h-1zM616 567h1v1h-1zM617 568h2v1h-2zM622 569h1v1h-1zM623 570h2v1h-2zM628 571h3v1h-3zM634 572h1v1h-1zM635 573h2v1h-2zM640 574h3v1h-3zM646 575h3v1h-3zM652 576h3v1h-3zM658 577h1v1h-1zM659 578h2v1h-2zM664 578h3v1h-3zM670 578h3v1h-3zM676 579h3v1h-3zM682 579h3v1h-3zM688 579h1v1h-1zM689 580h2v1h-2zM694 580h3v1h-3zM700 580h3v1h-3zM706 579h3v1h-3zM712 579h3v1h-3zM718 579h3v1h-3zM724 579h3v1h-3zM730 579h3v1h-3zM736 579h1v1h-1zM737 580h2v1h-2zM742 580h3v1h-3zM748 581h3v1h-3zM754 582h3v1h-3zM760 582h1v1h-1zM761 583h2v1h-2zM766 583h1v1h-1zM767 584h2v1h-2zM772 585h2v1h-2zM774 586h1v1h-1zM778 587h1v1h-1zM779 588h2v1h-2zM784 591h1v1h-1zM785 592h2v1h-2zM790 596h1v1h-1zM791 597h2v1h-2zM796 601h1v1h-1zM797 602h1v1h-1zM798 603h1v1h-1zM802 607h1v1h-1zM803 608h1v1h-1zM804 609h1v1h-1zM808 613h1v1h-1zM809 614h1v1h-1zM810 615h1v1h-1zM814 619h1v1h-1zM815 620h1v1h-1zM816 621h1v1h-1zM819 625h1v1h-1zM820 626h1v1h-1zM821 627h1v1h-1zM824 631h1v1h-1zM825 632h1v1h-1zM826 633h1v1h-1zM830 637h1v2h-1zM831 639h1v1h-1zM834 643h1v1h-1zM835 644h1v1h-1zM836 645h1v1h-1zM840 649h1v2h-1zM841 651h1v1h-1zM845 655h1v1h-1zM846 656h1v1h-1zM847 657h1v1h-1zM851 661h1v1h-1zM852 662h1v1h-1zM853 663h1v1h-1zM857 666h1v1h-1zM858 667h1v1h-1zM859 668h1v1h-1zM863 670h1v1h-1zM864 671h2v1h-2zM869 673h2v1h-2zM871 674h1v1h-1zM875 675h3v1h-3zM881 676h3v1h-3zM887 676h2v1h-2zM889 677h1v1h-1zM893 677h3v1h-3zM899 677h3v1h-3zM905 676h2v1h-2zM907 675h1v1h-1zM911 674h2v1h-2zM913 673h1v1h-1zM917 672h1v1h-1zM918 671h2v1h-2zM923 669h1v1h-1zM924 668h1v1h-1zM925 667h1v1h-1zM929 665h1v1h-1zM930 664h2v1h-2zM935 661h1v1h-1zM936 660h1v1h-1zM937 659h1v1h-1zM941 656h2v1h-2zM943 655h1v1h-1zM947 652h1v1h-1zM948 651h1v1h-1zM949 650h1v1h-1zM953 647h1v1h-1zM954 646h1v1h-1zM955 645h1v1h-1zM959 642h1v1h-1zM960 641h1v1h-1zM961 640h1v1h-1zM965 637h1v1h-1zM966 636h1v1h-1zM967 635h1v1h-1zM971 632h1v1h-1zM972 631h1v1h-1zM973 630h1v1h-1zM977 627h1v1h-1zM978 626h1v1h-1zM979 625h1v1h-1zM983 621h2v1h-2zM985 620h1v1h-1zM989 616h2v1h-2zM991 615h1v1h-1zM995 612h1v1h-1zM996 611h1v1h-1zM997 610h1v1h-1zM1001 608h1v1h-1zM1002 607h2v1h-2zM1007 604h2v1h-2zM1009 603h1v1h-1zM1013 600h2v1h-2zM1015 599h1v1h-1zM1019 597h1v1h-1zM1020 596h1v1h-1zM1021 595h1v1h-1zM1025 593h1v1h-1zM1026 592h2v1h-2zM1031 589h2v1h-2zM1033 588h1v1h-1zM1037 585h2v1h-2zM1039 584h1v1h-1zM1043 581h1v1h-1zM1044 580h1v1h-1zM1045 579h1v1h-1zM1049 577h1v1h-1zM1050 576h2v1h-2zM1055 574h1v1h-1zM1056 573h2v1h-2zM1061 570h2v1h-2zM1063 569h1v1h-1zM1067 567h1v1h-1zM1068 566h1v1h-1zM1069 565h1v1h-1zM1073 563h1v1h-1zM1074 562h2v1h-2zM1079 559h2v1h-2zM1081 558h1v1h-1zM1085 556h1v1h-1zM1086 555h2v1h-2zM1091 553h1v1h-1zM1092 552h2v1h-2zM1097 550h1v1h-1zM1098 549h2v1h-2zM1103 547h2v1h-2zM1105 546h1v1h-1zM1109 545h2v1h-2zM1111 544h1v1h-1zM1115 543h3v1h-3zM1121 542h2v1h-2zM1123 541h1v1h-1zM1127 540h3v1h-3zM1133 539h3v1h-3zM1139 538h3v1h-3zM1145 538h3v1h-3zM1151 538h3v1h-3zM1157 538h3v1h-3zM1163 539h3v1h-3zM1169 540h3v1h-3zM1175 541h3v1h-3zM1181 542h3v1h-3zM1187 543h3v1h-3zM1193 544h3v1h-3zM1199 545h3v1h-3zM1205 546h1v1h-1zM1206 547h2v1h-2zM1211 549h3v1h-3zM1217 551h2v1h-2zM1219 552h1v1h-1zM1223 553h3v1h-3zM1229 554h2v1h-2zM1231 555h1v1h-1zM1235 556h3v1h-3zM1241 557h2v1h-2zM1243 558h1v1h-1zM1247 559h3v1h-3zM1253 560h3v1h-3zM1259 561h3v1h-3zM1265 562h2v1h-2zM1267 563h1v1h-1zM1271 564h3v1h-3zM1277 565h3v1h-3zM1283 566h3v1h-3zM1289 567h3v1h-3zM1295 567h3v1h-3zM1301 567h3v1h-3zM1307 566h3v1h-3zM1313 565h3v1h-3zM1319 565h2v1h-2zM1321 564h1v1h-1zM1325 564h1v1h-1zM1326 563h2v1h-2zM1331 561h1v1h-1z"/>
</g>
<g shape-rendering="crispEdges">
<path fill="#C0C0C0" d="M5 731h3v1h-3zM11 731h3v1h-3zM17 731h3v1h-3zM23 731h3v1h-3zM29 731h3v1h-3zM35 731h3v1h-3zM41 731h3v1h-3zM47 731h3v1h-3zM53 731h3v1h-3zM59 731h3v1h-3zM65 731h3v1h-3zM71 731h3v1h-3zM77 731h3v1h-3zM83 731h3v1h-3zM89 731h3v1h-3zM95 731h3v1h-3zM101 731h3v1h-3zM107 731h3v1h-3zM113 731h3v1h-3zM119 731h3v1h-3zM125 731h3v1h-3zM131 731h3v1h-3zM137 731h3v1h-3zM143 731h3v1h-3zM149 731h3v1h-3zM155 731h3v1h-3zM161 731h3v1h-3zM167 731h3v1h-3zM173 731h3v1h-3zM179 731h3v1h-3zM185 731h3v1h-3zM191 731h3v1h-3zM197 731h3v1h-3zM203 731h3v1h-3zM209 731h3v1h-3zM215 731h3v1h-3zM221 731h3v1h-3zM227 731h3v1h-3zM233 731h3v1h-3zM239 731h3v1h-3zM245 731h3v1h-3zM251 731h3v1h-3zM257 731h3v1h-3zM263 731h3v1h-3zM269 731h3v1h-3zM275 731h3v1h-3zM281 731h3v1h-3zM287 731h3v1h-3zM293 731h3v1h-3zM299 731h3v1h-3zM305 731h3v1h-3zM311 731h3v1h-3zM317 731h3v1h-3zM323 731h3v1h-3zM329 731h3v1h-3zM335 731h3v1h-3zM341 731h3v1h-3zM347 731h3v1h-3zM353 731h3v1h-3zM359 731h3v1h-3zM365 731h3v1h-3zM371 731h3v1h-3zM377 731h3v1h-3zM383 731h3v1h-3zM389 731h3v1h-3zM395 731h3v1h-3zM401 731h3v1h-3zM407 731h3v1h-3zM413 731h3v1h-3zM419 731h3v1h-3zM425 731h3v1h-3zM431 731h3v1h-3zM437 731h3v1h-3zM443 731h3v1h-3zM449 731h3v1h-3zM455 731h3v1h-3zM461 731h3v1h-3zM467 731h3v1h-3zM473 731h3v1h-3zM479 731h3v1h-3zM485 731h3v1h-3zM491 731h3v1h-3zM497 731h3v1h-3zM503 731h3v1h-3zM509 731h3v1h-3zM515 731h3v1h-3zM521 731h3v1h-3zM527 731h3v1h-3zM533 731h3v1h-3zM539 731h3v1h-3zM545 731h3v1h-3zM551 731h3v1h-3zM557 731h3v1h-3zM563 731h3v1h-3zM569 731h3v1h-3zM575 731h3v1h-3zM581 731h3v1h-3zM587 731h3v1h-3zM593 731h3v1h-3zM599 731h3v1h-3zM605 731h3v1h-3zM611 731h3v1h-3zM617 731h3v1h-3zM623 731h3v1h-3zM629 731h3v1h-3zM635 731h3v1h-3zM641 731h3v1h-3zM647 731h3v1h-3zM653 731h3v1h-3zM659 731h3v1h-3zM665 731h3v1h-3zM671 731h3v1h-3zM677 731h3v1h-3zM683 731h3v1h-3zM689 731h3v1h-3zM695 731h3v1h-3zM701 731h3v1h-3zM707 731h3v1h-3zM713 731h3v1h-3zM719 731h3v1h-3zM725 731h3v1h-3zM731 731h3v1h-3zM737 731h3v1h-3zM743 731h3v1h-3zM749 731h3v1h-3zM755 731h3v1h-3zM761 731h3v1h-3zM767 731h3v1h-3zM773 731h3v1h-3zM779 731h3v1h-3zM785 731h3v1h-3zM791 731h3v1h-3zM797 731h3v1h-3zM803 731h3v1h-3zM809 731h3v1h-3zM815 731h3v1h-3zM821 731h3v1h-3zM827 731h3v1h-3zM833 731h3v1h-3zM839 731h3v1h-3zM845 731h3v1h-3zM851 731h3v1h-3zM857 731h3v1h-3zM863 731h3v1h-3zM869 731h3v1h-3zM875 731h3v1h-3zM881 731h3v1h-3zM887 731h3v1h-3zM893 731h3v1h-3zM899 731h3v1h-3zM905 731h3v1h-3zM911 731h3v1h-3zM917 731h3v1h-3zM923 731h3v1h-3zM929 731h3v1h-3zM935 731h3v1h-3zM941 731h3v1h-3zM947 731h3v1h-3zM953 731h3v1h-3zM959 731h3v1h-3zM965 731h3v1h-3zM971 731h3v1h-3zM977 731h3v1h-3zM983 731h3v1h-3zM989 731h3v1h-3zM995 731h3v1h-3zM1001 731h3v1h-3zM1007 731h3v1h-3zM1013 731h3v1h-3zM1019 731h3v1h-3zM1025 731h3v1h-3zM1031 731h3v1h-3zM1037 731h3v1h-3zM1043 731h3v1h-3zM1049 731h3v1h-3zM1055 731h3v1h-3zM1061 731h3v1h-3zM1067 731h3v1h-3zM1073 731h3v1h-3zM1079 731h3v1h-3zM1085 731h3v1h-3zM1091 731h3v1h-3zM1097 731h3v1h-3zM1103 731h3v1h-3zM1109 731h3v1h-3zM1115 731h3v1h-3zM1121 731h3v1h-3zM1127 731h3v1h-3zM1133 731h3v1h-3zM1139 731h3v1h-3zM1145 731h3v1h-3zM1151 731h3v1h-3zM1157 731h3v1h-3zM1163 731h3v1h-3zM1169 731h3v1h-3zM1175 731h3v1h-3zM1181 731h3v1h-3zM1187 731h3v1h-3zM1193 731h3v1h-3zM1199 731h3v1h-3zM1205 731h3v1h-3zM1211 731h3v1h-3zM1217 731h3v1h-3zM1223 731h3v1h-3zM1229 731h3v1h-3zM1235 731h3v1h-3zM1241 731h3v1h-3zM1247 731h3v1h-3zM1253 731h3v1h-3zM1259 731h3v1h-3zM1265 731h3v1h-3zM1271 731h3v1h-3zM1277 731h3v1h-3zM1283 731h3v1h-3zM1289 731h3v1h-3zM1295 731h3v1h-3zM1301 731h3v1h-3zM1307 731h3v1h-3zM1313 731h3v1h-3zM1319 731h3v1h-3zM1325 731h3v1h-3zM1331 731h3v1h-3zM1337 731h3v1h-3zM1343 731h3v1h-3zM1349 731h3v1h-3zM1355 731h3v1h-3zM1361 731h3v1h-3zM1367 731h3v1h-3zM1373 731h3v1h-3zM1379 731h3v1h-3zM1385 731h3v1h-3zM1391 731h3v1h-3zM1397 731h3v1h-3zM1403 731h3v1h-3zM1409 731h3v1h-3zM1415 731h3v1h-3zM1421 731h3v1h-3zM1427 731h3v1h-3zM1433 731h3v1h-3zM1439 731h3v1h-3zM1445 731h3v1h-3zM1451 731h3v1h-3zM1457 731h3v1h-3zM1463 731h3v1h-3zM1469 731h3v1h-3zM1475 731h3v1h-3zM1481 731h3v1h-3zM1487 731h3v1h-3zM1493 731h3v1h-3zM1499 731h3v1h-3zM1505 731h3v1h-3zM1511 731h3v1h-3zM1517 731h3v1h-3zM1523 731h3v1h-3zM1529 731h3v1h-3zM1535 731h3v1h-3zM1541 731h3v1h-3zM1547 731h3v1h-3zM1553 731h3v1h-3zM1559 731h3v1h-3zM1565 731h3v1h-3zM1571 731h3v1h-3zM1577 731h3v1h-3zM1583 731h3v1h-3zM1589 731h3v1h-3zM1595 731h3v1h-3zM1601 731h3v1h-3zM1607 731h3v1h-3zM1613 731h3v1h-3zM1619 731h3v1h-3zM1625 731h3v1h-3zM1631 731h3v1h-3zM1637 731h3v1h-3zM1643 731h3v1h-3zM1649 731h3v1h-3zM1655 731h3v1h-3zM1661 731h3v1h-3zM1667 731h3v1h-3zM1673 731h3v1h-3zM1679 731h3v1h-3z"/>
<path fill="#C0C0C0" d="M5 780h3v1h-3zM11 780h3v1h-3zM17 780h3v1h-3zM23 780h3v1h-3zM29 780h3v1h-3zM35 780h3v1h-3zM41 780h3v1h-3zM47 780h3v1h-3zM53 780h3v1h-3zM59 780h3v1h-3zM65 780h3v1h-3zM71 780h3v1h-3zM77 780h3v1h-3zM83 780h3v1h-3zM89 780h3v1h-3zM95 780h3v1h-3zM101 780h3v1h-3zM107 780h3v1h-3zM113 780h3v1h-3zM119 780h3v1h-3zM125 780h3v1h-3zM131 780h3v1h-3zM137 780h3v1h-3zM143 780h3v1h-3zM149 780h3v1h-3zM155 780h3v1h-3zM161 780h3v1h-3zM167 780h3v1h-3zM173 780h3v1h-3zM179 780h3v1h-3zM185 780h3v1h-3zM191 780h3v1h-3zM197 780h3v1h-3zM203 780h3v1h-3zM209 780h3v1h-3zM215 780h3v1h-3zM221 780h3v1h-3zM227 780h3v1h-3zM233 780h3v1h-3zM239 780h3v1h-3zM245 780h3v1h-3zM251 780h3v1h-3zM257 780h3v1h-3zM263 780h3v1h-3zM269 780h3v1h-3zM275 780h3v1h-3zM281 780h3v1h-3zM287 780h3v1h-3zM293 780h3v1h-3zM299 780h3v1h-3zM305 780h3v1h-3zM311 780h3v1h-3zM317 780h3v1h-3zM323 780h3v1h-3zM329 780h3v1h-3zM335 780h3v1h-3zM341 780h3v1h-3zM347 780h3v1h-3zM353 780h3v1h-3zM359 780h3v1h-3zM365 780h3v1h-3zM371 780h3v1h-3zM377 780h3v1h-3zM383 780h3v1h-3zM389 780h3v1h-3zM395 780h3v1h-3zM401 780h3v1h-3zM407 780h3v1h-3zM413 780h3v1h-3zM419 780h3v1h-3zM425 780h3v1h-3zM431 780h3v1h-3zM437 780h3v1h-3zM443 780h3v1h-3zM449 780h3v1h-3zM455 780h3v1h-3zM461 780h3v1h-3zM467 780h3v1h-3zM473 780h3v1h-3zM479 780h3v1h-3zM485 780h3v1h-3zM491 780h3v1h-3zM497 780h3v1h-3zM503 780h3v1h-3zM509 780h3v1h-3zM515 780h3v1h-3zM521 780h3v1h-3zM527 780h3v1h-3zM533 780h3v1h-3zM539 780h3v1h-3zM545 780h3v1h-3zM551 780h3v1h-3zM557 780h3v1h-3zM563 780h3v1h-3zM569 780h3v1h-3zM575 780h3v1h-3zM581 780h3v1h-3zM587 780h3v1h-3zM593 780h3v1h-3zM599 780h3v1h-3zM605 780h3v1h-3zM611 780h3v1h-3zM617 780h3v1h-3zM623 780h3v1h-3zM629 780h3v1h-3zM635 780h3v1h-3zM641 780h3v1h-3zM647 780h3v1h-3zM653 780h3v1h-3zM659 780h3v1h-3zM665 780h3v1h-3zM671 780h3v1h-3zM677 780h3v1h-3zM683 780h3v1h-3zM689 780h3v1h-3zM695 780h3v1h-3zM701 780h3v1h-3zM707 780h3v1h-3zM713 780h3v1h-3zM719 780h3v1h-3zM725 780h3v1h-3zM731 780h3v1h-3zM737 780h3v1h-3zM743 780h3v1h-3zM749 780h3v1h-3zM755 780h3v1h-3zM761 780h3v1h-3zM767 780h3v1h-3zM773 780h3v1h-3zM779 780h3v1h-3zM785 780h3v1h-3zM791 780h3v1h-3zM797 780h3v1h-3zM803 780h3v1h-3zM809 780h3v1h-3zM815 780h3v1h-3zM821 780h3v1h-3zM827 780h3v1h-3zM833 780h3v1h-3zM839 780h3v1h-3zM845 780h3v1h-3zM851 780h3v1h-3zM857 780h3v1h-3zM863 780h3v1h-3zM869 780h3v1h-3zM875 780h3v1h-3zM881 780h3v1h-3zM887 780h3v1h-3zM893 780h3v1h-3zM899 780h3v1h-3zM905 780h3v1h-3zM911 780h3v1h-3zM917 780h3v1h-3zM923 780h3v1h-3zM929 780h3v1h-3zM935 780h3v1h-3zM941 780h3v1h-3zM947 780h3v1h-3zM953 780h3v1h-3zM959 780h3v1h-3zM965 780h3v1h-3zM971 780h3v1h-3zM977 780h3v1h-3zM983 780h3v1h-3zM989 780h3v1h-3zM995 780h3v1h-3zM1001 780h3v1h-3zM1007 780h3v1h-3zM1013 780h3v1h-3zM1019 780h3v1h-3zM1025 780h3v1h-3zM1031 780h3v1h-3zM1037 780h3v1h-3zM1043 780h3v1h-3zM1049 780h3v1h-3zM1055 780h3v1h-3zM1061 780h3v1h-3zM1067 780h3v1h-3zM1073 780h3v1h-3zM1079 780h3v1h-3zM1085 780h3v1h-3zM1091 780h3v1h-3zM1097 780h3v1h-3zM1103 780h3v1h-3zM1109 780h3v1h-3zM1115 780h3v1h-3zM1121 780h3v1h-3zM1127 780h3v1h-3zM1133 780h3v1h-3zM1139 780h3v1h-3zM1145 780h3v1h-3zM1151 780h3v1h-3zM1157 780h3v1h-3zM1163 780h3v1h-3zM1169 780h3v1h-3zM1175 780h3v1h-3zM1181 780h3v1h-3zM1187 780h3v1h-3zM1193 780h3v1h-3zM1199 780h3v1h-3zM1205 780h3v1h-3zM1211 780h3v1h-3zM1217 780h3v1h-3zM1223 780h3v1h-3zM1229 780h3v1h-3zM1235 780h3v1h-3zM1241 780h3v1h-3zM1247 780h3v1h-3zM1253 780h3v1h-3zM1259 780h3v1h-3zM1265 780h3v1h-3zM1271 780h3v1h-3zM1277 780h3v1h-3zM1283 780h3v1h-3zM1289 780h3v1h-3zM1295 780h3v1h-3zM1301 780h3v1h-3zM1307 780h3v1h-3zM1313 780h3v1h-3zM1319 780h3v1h-3zM1325 780h3v1h-3zM1331 780h3v1h-3zM1337 780h3v1h-3zM1343 780h3v1h-3zM1349 780h3v1h-3zM1355 780h3v1h-3zM1361 780h3v1h-3zM1367 780h3v1h-3zM1373 780h3v1h-3zM1379 780h3v1h-3zM1385 780h3v1h-3zM1391 780h3v1h-3zM1397 780h3v1h-3zM1403 780h3v1h-3zM1409 780h3v1h-3zM1415 780h3v1h-3zM1421 780h3v1h-3zM1427 780h3v1h-3zM1433 780h3v1h-3zM1439 780h3v1h-3zM1445 780h3v1h-3zM1451 780h3v1h-3zM1457 780h3v1h-3zM1463 780h3v1h-3zM1469 780h3v1h-3zM1475 780h3v1h-3zM1481 780h3v1h-3zM1487 780h3v1h-3zM1493 780h3v1h-3zM1499 780h3v1h-3zM1505 780h3v1h-3zM1511 780h3v1h-3zM1517 780h3v1h-3zM1523 780h3v1h-3zM1529 780h3v1h-3zM1535 780h3v1h-3zM1541 780h3v1h-3zM1547 780h3v1h-3zM1553 780h3v1h-3zM1559 780h3v1h-3zM1565 780h3v1h-3zM1571 780h3v1h-3zM1577 780h3v1h-3zM1583 780h3v1h-3zM1589 780h3v1h-3zM1595 780h3v1h-3zM1601 780h3v1h-3zM1607 780h3v1h-3zM1613 780h3v1h-3zM1619 780h3v1h-3zM1625 780h3v1h-3zM1631 780h3v1h-3zM1637 780h3v1h-3zM1643 780h3v1h-3zM1649 780h3v1h-3zM1655 780h3v1h-3zM1661 780h3v1h-3zM1667 780h3v1h-3zM1673 780h3v1h-3zM1679 780h3v1h-3z"/>
<path fill="#1E90FF" d="M4 739h5v1h-5zM9 740h5v1h-5zM14 739h3v1h-3zM17 738h2v1h-2zM19 737h6v1h-6zM25 736h5v1h-5zM30 737h3v1h-3zM33 738h2v1h-2zM35 739h2v1h-2zM37 740h1v1h-1zM38 741h1v1h-1zM39 742h1v1h-1zM40 743h1v2h-1zM41 745h1v1h-1zM42 746h1v1h-1zM43 747h1v1h-1zM44 748h1v1h-1zM45 749h1v1h-1zM46 750h1v1h-1zM47 751h2v1h-2zM49 752h1v1h-1zM50 753h1v1h-1zM51 754h1v1h-1zM52 755h1v1h-1zM53 756h1v1h-1zM54 757h1v1h-1zM55 758h2v1h-2zM57 759h1v1h-1zM58 760h1v1h-1zM59 761h1v1h-1zM60 762h5v1h-5zM65 761h5v1h-5zM70 760h2v1h-2zM72 759h2v1h-2zM74 758h2v1h-2zM76 757h2v1h-2zM78 758h3v1h-3zM81 759h2v1h-2zM83 760h2v1h-2zM85 761h1v1h-1zM86 762h1v1h-1zM87 763h1v1h-1zM88 764h1v2h-1zM89 766h1v1h-1zM90 767h1v1h-1zM91 768h1v1h-1zM92 769h1v1h-1zM93 770h2v1h-2zM95 771h2v1h-2zM97 772h1v1h-1zM98 773h2v1h-2zM100 774h1v1h-1zM101 772h1v2h-1zM102 771h1v1h-1zM103 770h1v1h-1zM104 768h1v2h-1zM105 767h1v1h-1zM106 766h1v1h-1zM107 764h1v2h-1zM108 763h1v1h-1zM109 762h2v1h-2zM111 761h2v1h-2zM113 760h1v1h-1zM114 759h2v1h-2zM116 758h5v1h-5zM121 759h4v1h-4zM125 758h1v1h-1zM126 757h1v1h-1zM127 756h2v1h-2zM129 755h1v1h-1zM130 754h1v1h-1zM131 753h1v1h-1zM132 752h2v1h-2zM134 753h2v1h-2zM136 754h2v1h-2zM138 755h2v1h-2zM140 756h1v1h-1zM141 755h2v1h-2zM143 754h2v1h-2zM145 753h1v1h-1zM146 752h2v1h-2zM148 751h1v1h-1zM149 752h1v2h-1zM150 754h1v1h-1zM151 755h1v2h-1zM152 757h1v1h-1zM153 758h1v2h-1zM154 760h1v1h-1zM155 761h1v2h-1zM156 763h2v1h-2zM158 762h3v1h-3zM161 761h2v1h-2zM163 760h14v1h-14zM177 761h6v1h-6zM183 762h4v1h-4zM187 763h2v1h-2zM189 764h1v1h-1zM190 765h1v1h-1zM191 766h2v1h-2zM193 767h1v1h-1zM194 768h1v1h-1zM195 769h1v1h-1zM196 770h1v1h-1zM197 769h2v1h-2zM199 768h1v1h-1zM200 767h1v1h-1zM201 766h2v1h-2zM203 765h1v1h-1zM204 764h5v1h-5zM209 765h8v1h-8zM217 766h4v1h-4zM221 767h2v1h-2zM223 768h2v1h-2zM225 769h1v1h-1zM226 770h2v1h-2zM228 771h2v1h-2zM230 770h2v1h-2zM232 769h2v1h-2zM234 768h2v1h-2zM236 767h2v1h-2zM238 768h2v1h-2zM240 769h2v1h-2zM242 770h2v1h-2zM244 771h1v1h-1zM245 769h1v2h-1zM246 767h1v2h-1zM247 765h1v2h-1zM248 763h1v2h-1zM249 761h1v2h-1zM250 759h1v2h-1zM251 757h1v2h-1zM252 756h17v1h-17zM269 757h2v1h-2zM271 758h2v1h-2zM273 759h1v1h-1zM274 760h2v1h-2zM276 761h1v1h-1zM277 760h1v1h-1zM278 759h1v1h-1zM279 758h1v1h-1zM280 757h1v1h-1zM281 756h1v1h-1zM282 755h1v1h-1zM283 754h1v1h-1zM284 753h1v1h-1zM285 754h1v2h-1zM286 756h1v2h-1zM287 758h1v2h-1zM288 760h1v1h-1zM289 761h1v2h-1zM290 763h1v2h-1zM291 765h1v2h-1zM292 767h1v1h-1zM293 766h1v1h-1zM294 765h1v1h-1zM295 764h1v1h-1zM296 763h1v1h-1zM297 762h1v1h-1zM298 761h1v1h-1zM299 760h1v1h-1zM300 759h5v1h-5zM305 760h6v1h-6zM311 761h4v1h-4zM315 762h2v1h-2zM317 761h1v1h-1zM318 760h1v1h-1zM319 759h1v1h-1zM320 758h1v1h-1zM321 757h1v1h-1zM322 756h1v1h-1zM323 755h1v1h-1zM324 754h5v1h-5zM329 753h12v1h-12zM341 754h1v1h-1zM342 755h1v2h-1zM343 757h1v1h-1zM344 758h1v1h-1zM345 759h1v1h-1zM346 760h1v2h-1zM347 762h1v1h-1zM348 763h3v1h-3zM351 764h4v1h-4zM355 765h6v1h-6zM361 764h6v1h-6zM367 763h4v1h-4zM371 762h14v1h-14zM385 763h13v1h-13zM398 762h3v1h-3zM401 761h2v1h-2zM403 760h10v1h-10zM413 759h1v1h-1zM414 757h1v2h-1zM415 756h1v1h-1zM416 755h1v1h-1zM417 754h1v1h-1zM418 752h1v2h-1zM419 751h1v1h-1zM420 750h1v1h-1zM421 751h1v1h-1zM422 752h1v1h-1zM423 753h2v1h-2zM425 754h1v1h-1zM426 755h1v1h-1zM427 756h1v1h-1zM428 757h1v1h-1zM429 758h1v1h-1zM430 759h1v1h-1zM431 760h2v1h-2zM433 761h1v1h-1zM434 762h1v1h-1zM435 763h1v1h-1zM436 764h1v1h-1zM437 763h2v1h-2zM439 762h1v1h-1zM440 761h1v1h-1zM441 760h2v1h-2zM443 759h1v1h-1zM444 758h1v1h-1zM445 756h1v2h-1zM446 755h1v1h-1zM447 754h1v1h-1zM448 752h1v2h-1zM449 751h1v1h-1zM450 750h1v1h-1zM451 748h1v2h-1zM452 747h9v1h-9zM461 746h2v1h-2zM463 745h1v1h-1zM464 744h1v1h-1zM465 743h2v1h-2zM467 742h1v1h-1zM468 741h5v1h-5zM473 740h4v1h-4zM477 739h1v1h-1zM478 738h1v1h-1zM479 737h1v1h-1zM480 736h1v1h-1zM481 735h1v1h-1zM482 734h1v1h-1zM483 733h1v1h-1zM484 732h2v1h-2zM486 731h2v1h-2zM488 730h2v1h-2zM490 729h2v1h-2zM492 728h2v1h-2zM494 729h3v1h-3zM497 730h2v1h-2zM499 731h12v1h-12zM511 732h4v1h-4zM515 733h11v1h-11zM526 734h3v1h-3zM529 735h2v1h-2zM531 736h2v1h-2zM533 737h1v1h-1zM534 738h1v1h-1zM535 739h1v1h-1zM536 740h1v1h-1zM537 741h1v1h-1zM538 742h1v1h-1zM539 743h1v1h-1zM540 744h1v1h-1zM541 745h1v2h-1zM542 747h1v2h-1zM543 749h1v2h-1zM544 751h1v2h-1zM545 753h1v2h-1zM546 755h1v2h-1zM547 757h1v2h-1zM548 759h3v1h-3zM551 758h4v1h-4zM555 757h4v1h-4zM559 758h4v1h-4zM563 759h2v1h-2zM565 760h2v1h-2zM567 761h2v1h-2zM569 762h1v1h-1zM570 763h2v1h-2zM572 764h1v1h-1zM573 763h2v1h-2zM575 762h2v1h-2zM577 761h1v1h-1zM578 760h2v1h-2zM580 759h2v1h-2zM582 758h2v1h-2zM584 757h2v1h-2zM586 756h2v1h-2zM588 755h3v1h-3zM591 756h4v1h-4zM595 757h11v1h-11zM606 758h3v1h-3zM609 759h2v1h-2zM611 760h6v1h-6zM617 761h16v1h-16zM633 762h5v1h-5zM638 761h2v1h-2zM640 760h2v1h-2zM642 759h2v1h-2zM644 758h10v1h-10zM654 757h3v1h-3zM657 756h2v1h-2zM659 755h3v1h-3zM662 754h3v1h-3zM665 753h2v1h-2zM667 752h2v1h-2zM669 751h2v1h-2zM671 750h1v1h-1zM672 749h1v1h-1zM673 748h2v1h-2zM675 747h1v1h-1zM676 746h1v1h-1zM677 747h1v2h-1zM678 749h1v2h-1zM679 751h1v1h-1zM680 752h1v2h-1zM681 754h1v1h-1zM682 755h1v2h-1zM683 757h1v2h-1zM684 759h3v1h-3zM687 758h4v1h-4zM691 757h6v1h-6zM697 758h8v1h-8zM705 759h4v1h-4zM709 758h2v1h-2zM711 757h2v1h-2zM713 756h1v1h-1zM714 755h2v1h-2zM716 754h5v1h-5zM721 755h4v1h-4zM725 756h1v2h-1zM726 758h1v2h-1zM727 760h1v2h-1zM728 762h1v2h-1zM729 764h1v2h-1zM730 766h1v2h-1zM731 768h1v2h-1zM732 770h5v1h-5zM737 769h8v1h-8zM745 770h5v1h-5zM750 771h2v1h-2zM752 772h2v1h-2zM754 773h2v1h-2zM756 774h5v1h-5zM761 775h8v1h-8zM769 776h4v1h-4zM772 777h1v1h-1zM773 778h1v3h-1zM774 781h1v3h-1zM775 784h1v3h-1zM776 787h1v2h-1zM777 789h1v3h-1zM778 792h1v3h-1zM779 795h1v3h-1zM780 798h1v1h-1zM780 799h2v1h-2zM782 798h3v1h-3zM785 797h2v1h-2zM787 796h2v1h-2zM789 797h1v1h-1zM790 798h1v1h-1zM791 799h1v1h-1zM792 800h1v2h-1zM793 802h1v1h-1zM794 803h1v1h-1zM795 804h2v1h-2zM796 805h1v1h-1zM797 802h1v2h-1zM798 800h1v2h-1zM799 797h1v3h-1zM800 795h1v2h-1zM801 792h1v3h-1zM802 790h1v2h-1zM803 788h1v2h-1zM804 786h1v2h-1zM805 785h1v1h-1zM806 784h1v1h-1zM807 783h1v1h-1zM808 782h1v1h-1zM809 781h1v1h-1zM810 780h1v1h-1zM811 779h1v1h-1zM812 778h3v1h-3zM815 779h4v1h-4zM819 780h3v1h-3zM822 781h2v1h-2zM824 782h2v1h-2zM826 783h2v1h-2zM828 784h11v1h-11zM839 783h4v1h-4zM843 782h2v1h-2zM845 781h2v1h-2zM847 780h2v1h-2zM849 779h1v1h-1zM850 778h2v1h-2zM852 777h5v1h-5zM857 778h8v1h-8zM865 779h16v1h-16zM881 780h8v1h-8zM889 781h4v1h-4zM893 780h1v1h-1zM894 779h1v1h-1zM895 778h2v1h-2zM897 777h1v1h-1zM898 776h1v1h-1zM899 775h1v1h-1zM900 774h5v1h-5zM905 775h4v1h-4zM909 774h2v1h-2zM911 773h2v1h-2zM913 772h1v1h-1zM914 771h2v1h-2zM916 770h1v1h-1zM917 768h1v2h-1zM918 767h1v1h-1zM919 765h1v2h-1zM920 764h1v1h-1zM921 762h1v2h-1zM922 761h1v1h-1zM923 759h1v2h-1zM924 758h3v1h-3zM927 757h4v1h-4zM931 756h6v1h-6zM937 757h8v1h-8zM945 758h4v1h-4zM949 757h2v1h-2zM951 756h2v1h-2zM953 755h1v1h-1zM954 754h2v1h-2zM956 753h1v1h-1zM957 754h2v1h-2zM959 755h1v1h-1zM960 756h1v1h-1zM961 757h2v1h-2zM963 758h1v1h-1zM964 759h3v1h-3zM967 758h4v1h-4zM971 757h4v1h-4zM975 756h4v1h-4zM979 755h6v1h-6zM985 756h6v1h-6zM991 755h4v1h-4zM995 754h3v1h-3zM998 753h3v1h-3zM1001 752h2v1h-2zM1003 751h6v1h-6zM1009 750h4v1h-4zM1013 748h1v2h-1zM1014 746h1v2h-1zM1015 744h1v2h-1zM1016 743h1v1h-1zM1017 741h1v2h-1zM1018 739h1v2h-1zM1019 737h1v2h-1zM1020 736h13v1h-13zM1033 735h6v1h-6zM1039 736h4v1h-4zM1043 737h3v1h-3zM1046 738h3v1h-3zM1049 739h2v1h-2zM1051 740h3v1h-3zM1054 741h2v1h-2zM1056 742h2v1h-2zM1058 743h2v1h-2zM1060 744h1v1h-1zM1061 742h1v2h-1zM1062 741h1v1h-1zM1063 740h1v1h-1zM1064 738h1v2h-1zM1065 737h1v1h-1zM1066 736h1v1h-1zM1067 734h1v2h-1zM1068 733h5v1h-5zM1073 732h13v1h-13zM1086 733h3v1h-3zM1089 734h2v1h-2zM1091 735h2v1h-2zM1093 734h2v1h-2zM1095 733h2v1h-2zM1097 732h1v1h-1zM1098 731h2v1h-2zM1100 730h2v1h-2zM1102 731h3v1h-3zM1105 732h2v1h-2zM1107 733h2v1h-2zM1109 734h1v2h-1zM1110 736h1v1h-1zM1111 737h1v1h-1zM1112 738h1v2h-1zM1113 740h1v1h-1zM1114 741h1v1h-1zM1115 742h1v2h-1zM1116 744h3v1h-3zM1119 743h4v1h-4zM1123 742h6v1h-6zM1129 741h5v1h-5zM1134 740h3v1h-3zM1137 739h2v1h-2zM1139 738h10v1h-10zM1149 739h2v1h-2zM1151 740h2v1h-2zM1153 741h1v1h-1zM1154 742h2v1h-2zM1156 743h1v1h-1zM1157 744h2v1h-2zM1159 745h2v1h-2zM1161 746h1v1h-1zM1162 747h2v1h-2zM1164 748h2v1h-2zM1166 747h3v1h-3zM1169 746h2v1h-2zM1171 745h6v1h-6zM1177 744h4v1h-4zM1181 745h1v1h-1zM1182 746h1v2h-1zM1183 748h1v1h-1zM1184 749h1v1h-1zM1185 750h1v1h-1zM1186 751h1v2h-1zM1187 753h1v1h-1zM1188 754h3v1h-3zM1191 753h4v1h-4zM1195 752h2v1h-2zM1197 751h2v1h-2zM1199 750h1v1h-1zM1200 749h1v1h-1zM1201 748h2v1h-2zM1203 747h1v1h-1zM1204 746h1v1h-1zM1205 747h2v1h-2zM1207 748h2v1h-2zM1209 749h1v1h-1zM1210 750h2v1h-2zM1212 751h2v1h-2zM1214 752h3v1h-3zM1217 753h2v1h-2zM1219 754h3v1h-3zM1222 755h3v1h-3zM1225 756h2v1h-2zM1227 757h2v1h-2zM1229 756h1v1h-1zM1230 755h1v1h-1zM1231 754h1v1h-1zM1232 753h1v1h-1zM1233 752h1v1h-1zM1234 751h1v1h-1zM1235 750h1v1h-1zM1236 749h13v1h-13zM1249 750h13v1h-13zM1262 751h3v1h-3zM1265 752h2v1h-2zM1267 753h2v1h-2zM1269 754h2v1h-2zM1271 755h1v1h-1zM1272 756h1v1h-1zM1273 757h2v1h-2zM1275 758h1v1h-1zM1276 759h1v1h-1zM1277 757h1v2h-1zM1278 756h1v1h-1zM1279 755h1v1h-1zM1280 753h1v2h-1zM1281 752h1v1h-1zM1282 751h1v1h-1zM1283 749h1v2h-1zM1284 748h2v1h-2zM1286 749h3v1h-3zM1289 750h2v1h-2zM1291 751h2v1h-2zM1293 750h2v1h-2zM1295 749h1v1h-1zM1296 748h1v1h-1zM1297 747h2v1h-2zM1299 746h1v1h-1zM1300 745h1v1h-1zM1301 743h1v2h-1zM1302 741h1v2h-1zM1303 740h1v1h-1zM1304 738h1v2h-1zM1305 737h1v1h-1zM1306 735h1v2h-1zM1307 733h1v2h-1zM1308 732h3v1h-3zM1311 733h4v1h-4zM1315 734h4v1h-4zM1319 733h4v1h-4zM1323 732h6v1h-6zM1329 733h3v1h-3z"/>
</g>
<g shape-rendering="crispEdges" fill="#000">
<rect x="3" y="2" width="1" height="522"/>
<rect x="3" y="525" width="1" height="167"/>
<rect x="3" y="693" width="1" height="125"/>
<rect x="1684" y="2" width="1" height="522"/>
<rect x="1684" y="525" width="1" height="167"/>
<rect x="1684" y="693" width="1" height="125"/>
<rect x="3" y="2" width="1682" height="1"/>
<rect x="3" y="523" width="1682" height="1"/>
<rect x="3" y="525" width="1682" height="1"/>
<rect x="3" y="691" width="1682" height="1"/>
<rect x="3" y="693" width="1682" height="1"/>
<rect x="3" y="817" width="1682" height="1"/>
<rect x="1685" y="25" width="2" height="1"/>
<rect x="1685" y="58" width="2" height="1"/>
<rect x="1685" y="91" width="2" height="1"/>
<rect x="1685" y="124" width="2" height="1"/>
<rect x="1685" y="157" width="2" height="1"/>
<rect x="1685" y="190" width="2" height="1"/>
<rect x="1685" y="223" width="2" height="1"/>
<rect x="1685" y="256" width="2" height="1"/>
<rect x="1685" y="289" width="2" height="1"/>
<rect x="1685" y="322" width="2" height="1"/>
<rect x="1685" y="388" width="2" height="1"/>
<rect x="1685" y="421" width="2" height="1"/>
<rect x="1685" y="487" width="2" height="1"/>
<rect x="1685" y="520" width="2" height="1"/>
<rect x="1685" y="578" width="1" height="1"/>
<rect x="1685" y="527" width="1" height="1"/>
<rect x="1685" y="690" width="1" height="1"/>
<rect x="1685" y="695" width="1" height="1"/>
<rect x="1685" y="816" width="1" height="1"/>
<rect x="4" y="818" width="1" height="3"/>
<rect x="68" y="818" width="1" height="3"/>
<rect x="132" y="818" width="1" height="3"/>
<rect x="196" y="818" width="1" height="3"/>
<rect x="260" y="818" width="1" height="3"/>
<rect x="324" y="818" width="1" height="3"/>
<rect x="388" y="818" width="1" height="3"/>
<rect x="452" y="818" width="1" height="3"/>
<rect x="516" y="818" width="1" height="3"/>
<rect x="580" y="818" width="1" height="3"/>
<rect x="644" y="818" width="1" height="3"/>
<rect x="708" y="818" width="1" height="3"/>
<rect x="772" y="818" width="1" height="3"/>
<rect x="836" y="818" width="1" height="3"/>
<rect x="900" y="818" width="1" height="3"/>
<rect x="964" y="818" width="1" height="3"/>
<rect x="1028" y="818" width="1" height="3"/>
<rect x="1092" y="818" width="1" height="3"/>
<rect x="1156" y="818" width="1" height="3"/>
<rect x="1220" y="818" width="1" height="3"/>
<rect x="1284" y="818" width="1" height="3"/>
</g>
<path d="M1341.5 3h10l-5 5.5z" fill="#778899"/>
<path d="M7 9h7.5l-3.75 4.2z" fill="#000"/>
<text x="1690.4" y="29" textLength="32.4" lengthAdjust="spacingAndGlyphs">1833.90</text>
<text x="1690.4" y="62" textLength="32.4" lengthAdjust="spacingAndGlyphs">1823.40</text>
<text x="1690.4" y="95" textLength="32.4" lengthAdjust="spacingAndGlyphs">1813.20</text>
<text x="1690.4" y="128" textLength="32.4" lengthAdjust="spacingAndGlyphs">1803.00</text>
<text x="1690.4" y="161" textLength="32.4" lengthAdjust="spacingAndGlyphs">1792.50</text>
<text x="1690.4" y="194" textLength="32.4" lengthAdjust="spacingAndGlyphs">1782.30</text>
<text x="1690.4" y="227" textLength="32.4" lengthAdjust="spacingAndGlyphs">1772.10</text>
<text x="1690.4" y="260" textLength="32.4" lengthAdjust="spacingAndGlyphs">1761.60</text>
<text x="1690.4" y="293" textLength="32.4" lengthAdjust="spacingAndGlyphs">1751.40</text>
<text x="1690.4" y="326" textLength="32.4" lengthAdjust="spacingAndGlyphs">1741.20</text>
<text x="1690.4" y="392" textLength="32.4" lengthAdjust="spacingAndGlyphs">1720.50</text>
<text x="1690.4" y="425" textLength="32.4" lengthAdjust="spacingAndGlyphs">1710.30</text>
<text x="1690.4" y="491" textLength="32.4" lengthAdjust="spacingAndGlyphs">1689.60</text>
<text x="1690.4" y="524" textLength="32.4" lengthAdjust="spacingAndGlyphs">1679.40</text>
<g shape-rendering="crispEdges">
<rect x="1686" y="31" width="41" height="11" fill="#FF0000"/>
<rect x="1686" y="112" width="41" height="11" fill="#000000"/>
<rect x="1686" y="127" width="41" height="11" fill="#32CD32"/>
<rect x="1686" y="239" width="41" height="11" fill="#4169E1"/>
<rect x="1686" y="352" width="41" height="11" fill="#4169E1"/>
<rect x="1686" y="448" width="41" height="11" fill="#4169E1"/>
</g>
<text class="w" x="1690.4" y="40" textLength="32.4" lengthAdjust="spacingAndGlyphs">1830.00</text>
<text class="w" x="1690.4" y="121" textLength="32.4" lengthAdjust="spacingAndGlyphs">1805.10</text>
<text class="w" x="1690.4" y="136" textLength="32.4" lengthAdjust="spacingAndGlyphs">1800.00</text>
<text class="w" x="1690.4" y="248" textLength="32.4" lengthAdjust="spacingAndGlyphs">1765.00</text>
<text class="w" x="1690.4" y="361" textLength="32.4" lengthAdjust="spacingAndGlyphs">1730.00</text>
<text class="w" x="1690.4" y="457" textLength="32.4" lengthAdjust="spacingAndGlyphs">1700.00</text>
<text x="1688.5" y="536" textLength="27" lengthAdjust="spacingAndGlyphs">10.648</text>
<text x="1688.3" y="582" textLength="18" lengthAdjust="spacingAndGlyphs">0.00</text>
<text x="1688.5" y="688" textLength="30.5" lengthAdjust="spacingAndGlyphs">-23.017</text>
<text x="1688.1" y="704" textLength="14.3" lengthAdjust="spacingAndGlyphs">100</text>
<text x="1687.3" y="735" textLength="9.5" lengthAdjust="spacingAndGlyphs">70</text>
<text x="1687.3" y="784" textLength="9.5" lengthAdjust="spacingAndGlyphs">30</text>
<text x="1687.3" y="814" textLength="4.8" lengthAdjust="spacingAndGlyphs">0</text>
<text x="18.8" y="14" textLength="57.3" lengthAdjust="spacingAndGlyphs">XAUUSD-,H4</text>
<text x="82.7" y="14" textLength="140" lengthAdjust="spacingAndGlyphs">1805.35 1805.85 1804.70 1805.10</text>
<text x="8.5" y="538" textLength="117.3" lengthAdjust="spacingAndGlyphs">MACD(12,26,9) 6.089 3.304</text>
<text x="8.3" y="706" textLength="67.2" lengthAdjust="spacingAndGlyphs">RSI(14) 68.5503</text>
<text x="3.4" y="830" textLength="45.4" lengthAdjust="spacingAndGlyphs">15 Jul 2021</text>
<text x="67.4" y="830" textLength="49.2" lengthAdjust="spacingAndGlyphs">16 Jul 16:00</text>
<text x="131.4" y="830" textLength="49.2" lengthAdjust="spacingAndGlyphs">20 Jul 00:00</text>
<text x="195.4" y="830" textLength="49.2" lengthAdjust="spacingAndGlyphs">21 Jul 08:00</text>
<text x="259.4" y="830" textLength="49.2" lengthAdjust="spacingAndGlyphs">22 Jul 16:00</text>
<text x="323.4" y="830" textLength="49.2" lengthAdjust="spacingAndGlyphs">26 Jul 00:00</text>
<text x="387.4" y="830" textLength="49.2" lengthAdjust="spacingAndGlyphs">27 Jul 08:00</text>
<text x="451.4" y="830" textLength="49.2" lengthAdjust="spacingAndGlyphs">28 Jul 16:00</text>
<text x="515.4" y="830" textLength="49.2" lengthAdjust="spacingAndGlyphs">30 Jul 00:00</text>
<text x="579.4" y="830" textLength="50.6" lengthAdjust="spacingAndGlyphs">2 Aug 08:00</text>
<text x="643.4" y="830" textLength="50.6" lengthAdjust="spacingAndGlyphs">3 Aug 16:00</text>
<text x="707.4" y="830" textLength="50.6" lengthAdjust="spacingAndGlyphs">5 Aug 00:00</text>
<text x="771.4" y="830" textLength="50.6" lengthAdjust="spacingAndGlyphs">6 Aug 08:00</text>
<text x="835.4" y="830" textLength="50.6" lengthAdjust="spacingAndGlyphs">9 Aug 16:00</text>
<text x="899.4" y="830" textLength="55.1" lengthAdjust="spacingAndGlyphs">11 Aug 00:00</text>
<text x="963.4" y="830" textLength="55.1" lengthAdjust="spacingAndGlyphs">12 Aug 08:00</text>
<text x="1027.4" y="830" textLength="55.1" lengthAdjust="spacingAndGlyphs">13 Aug 16:00</text>
<text x="1091.4" y="830" textLength="55.1" lengthAdjust="spacingAndGlyphs">17 Aug 00:00</text>
<text x="1155.4" y="830" textLength="55.1" lengthAdjust="spacingAndGlyphs">18 Aug 08:00</text>
<text x="1219.4" y="830" textLength="55.1" lengthAdjust="spacingAndGlyphs">19 Aug 16:00</text>
<text x="1283.4" y="830" textLength="55.1" lengthAdjust="spacingAndGlyphs">23 Aug 00:00</text>
<g fill="#ED1C24">
<text x="1376.5" y="199.3" textLength="262.5" lengthAdjust="spacingAndGlyphs" style="font-family:'Liberation Sans','Noto Sans CJK SC',sans-serif;font-size:36.5px;fill:#ED1C24;stroke:none;">多空转折点1800</text>
</g>
</svg>
</body></html>
